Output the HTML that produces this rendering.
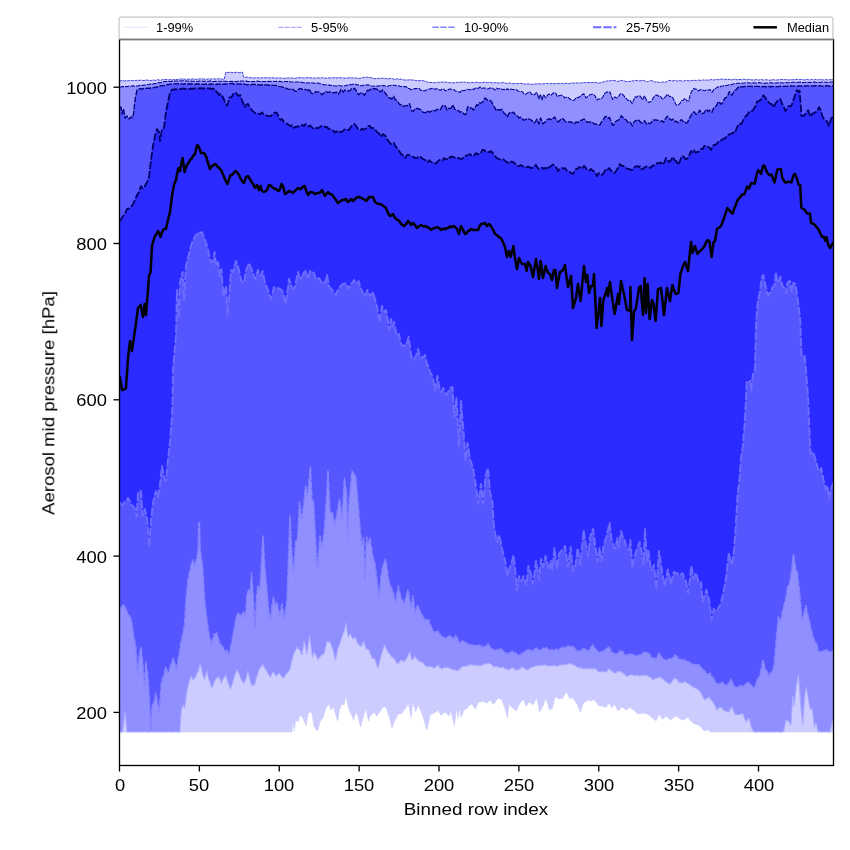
<!DOCTYPE html>
<html><head><meta charset="utf-8"><title>Aerosol mid pressure</title>
<style>
html,body{margin:0;padding:0;background:#fff;}
body{width:850px;height:850px;position:relative;overflow:hidden;font-family:"Liberation Sans",sans-serif;color:#000;}
.t{position:absolute;white-space:nowrap;line-height:1;will-change:transform;-webkit-font-smoothing:antialiased;}
.xt{font-size:17px;transform:translateX(-50%) scaleX(1.08);top:776.6px;}
.yt{font-size:17px;transform-origin:100% 50%;transform:translate(-100%,-50%) scaleX(1.08);}
.lg{font-size:12px;top:21.5px;transform-origin:0 50%;transform:scaleX(1.07);}
</style></head><body>
<svg width="850" height="850" viewBox="0 0 850 850" style="position:absolute;left:0;top:0">
<defs><clipPath id="ax"><rect x="119.5" y="39.4" width="714.0" height="726.1"/></clipPath></defs>
<g clip-path="url(#ax)">
<polygon points="119.5,81.0 121.1,80.8 122.8,80.6 124.4,81.0 126.0,80.5 127.6,80.8 129.2,80.6 130.9,80.4 132.5,80.7 134.1,80.3 135.8,80.5 137.4,80.2 139.0,80.5 140.7,80.1 142.3,80.4 144.0,80.6 145.7,80.0 147.3,80.1 149.0,80.4 150.7,80.6 152.3,80.2 154.0,80.0 155.7,80.5 157.3,79.7 159.0,80.0 160.7,80.2 162.3,79.7 164.0,79.6 165.7,79.5 167.3,79.6 169.0,80.0 170.7,79.4 172.3,79.7 174.0,79.7 175.7,79.4 177.3,79.5 179.0,79.4 180.7,79.0 182.3,79.0 184.0,79.1 185.7,79.4 187.3,79.2 189.0,79.1 190.7,79.2 192.3,79.1 194.0,78.9 195.7,79.3 197.3,79.2 199.0,79.0 200.6,78.8 202.2,79.1 203.8,79.0 205.3,79.3 206.9,79.2 208.5,78.8 210.1,79.4 211.7,78.7 213.3,78.9 214.9,79.2 216.5,78.7 218.1,79.0 219.6,78.6 221.2,79.1 222.8,79.2 224.4,79.0 225.7,72.3 227.2,72.4 228.8,72.6 230.3,72.2 231.8,72.5 233.4,72.4 234.9,72.4 236.5,72.3 238.0,72.6 239.5,72.7 241.1,72.3 242.6,72.3 243.5,77.0 244.8,77.3 246.0,77.3 247.6,77.0 249.2,77.6 250.9,77.7 252.5,78.0 254.1,78.0 255.8,77.7 257.4,77.8 259.0,78.0 260.6,78.1 262.2,77.6 263.7,78.0 265.3,77.7 266.9,77.7 268.5,77.6 270.1,78.2 271.6,77.7 273.2,77.8 274.8,77.9 276.4,78.3 277.9,77.7 279.5,78.0 281.1,78.0 282.7,78.3 284.3,78.3 285.8,78.3 287.4,77.8 289.0,78.0 290.6,77.9 292.2,77.9 293.8,78.3 295.4,78.3 297.0,77.7 298.6,77.7 300.2,77.7 301.8,77.7 303.4,77.9 305.0,78.0 306.6,77.7 308.2,77.5 309.8,77.8 311.4,77.8 313.0,77.9 314.6,78.2 316.2,78.0 317.8,77.9 319.4,77.9 321.0,78.0 322.6,77.5 324.2,78.1 325.8,78.0 327.4,78.1 329.0,77.8 330.6,78.1 332.2,77.8 333.8,77.8 335.4,77.6 337.0,78.1 338.6,77.7 340.2,77.7 341.8,77.9 343.4,77.9 345.0,78.2 346.7,78.1 348.3,77.8 350.0,77.8 351.7,77.9 353.3,77.9 355.0,78.1 356.7,77.8 358.3,78.5 360.0,78.2 361.8,78.0 363.6,77.4 365.4,77.3 367.2,77.2 368.6,77.4 370.1,77.6 371.6,77.7 373.0,78.3 374.6,78.6 376.2,78.8 377.8,78.4 379.4,78.4 381.0,78.2 382.6,78.2 384.2,78.5 385.8,78.4 387.4,78.9 389.0,78.7 390.7,78.5 392.3,78.5 394.0,79.4 395.7,79.1 397.3,78.9 399.0,79.3 400.7,79.0 402.3,79.5 404.0,80.0 405.7,80.0 407.3,80.0 409.0,79.9 410.7,79.8 412.3,80.0 414.0,80.0 415.7,80.6 417.3,80.5 419.0,80.8 420.7,80.5 422.3,80.6 424.0,80.9 425.8,81.5 427.5,82.0 429.2,82.3 431.0,82.4 432.6,82.6 434.1,82.7 435.7,82.6 437.2,82.2 438.8,82.4 440.3,82.3 441.9,82.0 443.4,82.0 445.0,82.2 446.6,82.2 448.1,82.6 449.7,82.8 451.2,82.4 452.8,82.7 454.3,82.8 455.9,82.8 457.4,82.3 459.0,82.4 460.6,82.2 462.2,82.2 463.7,82.2 465.3,82.2 466.9,82.5 468.5,82.7 470.1,82.7 471.6,82.4 473.2,82.5 474.8,82.6 476.4,82.1 477.9,82.5 479.5,82.7 481.1,82.6 482.7,82.6 484.3,82.4 485.8,82.1 487.4,82.6 489.0,82.4 490.6,82.3 492.2,82.8 493.7,83.0 495.3,82.6 496.9,82.6 498.5,83.1 500.1,83.0 501.6,82.6 503.2,82.7 504.8,82.8 506.4,83.4 507.9,83.4 509.5,82.9 511.1,83.5 512.7,83.7 514.3,83.5 515.8,83.4 517.4,83.6 519.0,83.6 520.5,83.4 522.1,83.3 523.6,84.1 525.2,83.9 526.7,83.8 528.3,84.2 529.8,83.9 531.4,84.3 532.9,84.3 534.5,83.8 536.0,84.1 537.6,83.8 539.2,83.8 540.8,83.7 542.5,84.0 544.1,83.6 545.7,83.7 547.3,83.4 548.9,84.0 550.5,83.5 552.2,83.5 553.8,83.6 555.4,83.8 557.0,83.4 558.6,83.4 560.1,83.8 561.7,83.5 563.3,83.5 564.9,83.6 566.4,83.2 568.0,83.6 569.5,83.5 571.0,83.1 572.5,82.9 574.1,83.4 575.6,82.8 577.1,83.0 578.6,82.9 580.3,83.0 582.1,82.8 583.8,82.6 585.5,82.6 587.3,82.6 589.0,82.5 590.6,82.8 592.1,82.3 593.7,82.7 595.3,82.5 596.9,82.6 598.4,83.1 600.0,82.9 601.6,82.4 603.2,81.9 604.8,81.6 606.4,80.9 607.9,81.1 609.4,80.7 610.8,80.7 612.3,80.5 613.8,80.4 615.2,80.7 616.6,81.2 618.0,81.4 619.5,80.9 621.0,80.4 622.6,80.7 624.2,80.9 625.9,81.6 627.5,81.5 629.0,81.4 630.5,81.3 632.0,80.7 633.7,81.0 635.5,80.4 637.2,80.6 638.9,80.9 640.7,80.7 642.4,80.4 643.8,80.6 645.2,81.0 646.6,81.8 648.4,81.4 650.2,80.7 652.0,80.7 653.5,81.2 655.0,82.2 656.5,81.8 658.1,82.3 659.6,82.3 661.1,82.4 662.6,81.8 664.2,82.2 665.7,82.0 667.1,81.6 668.6,80.6 670.0,80.4 671.5,80.8 673.0,80.9 674.5,80.4 676.0,80.7 677.6,81.1 679.1,80.6 680.7,80.7 682.2,81.1 683.8,81.0 685.3,80.4 686.9,80.6 688.4,80.7 690.0,80.7 691.7,80.5 693.3,80.3 695.0,80.4 696.7,80.7 698.3,80.0 700.0,80.4 701.7,80.3 703.3,79.9 705.0,80.2 706.7,80.0 708.4,80.1 710.1,79.9 711.7,79.4 713.4,80.0 715.1,79.7 716.8,79.4 718.3,79.8 719.9,79.1 721.4,79.2 723.0,79.1 724.5,79.7 726.1,79.3 727.6,79.2 729.2,79.4 730.7,79.8 732.3,79.7 733.8,79.3 735.4,79.2 736.9,79.8 738.5,79.5 740.0,79.5 741.7,79.7 743.3,79.2 745.0,79.2 746.7,79.8 748.3,79.6 750.0,79.3 751.7,80.0 753.3,79.8 755.0,80.0 756.7,79.4 758.3,80.1 760.0,79.8 761.7,79.5 763.3,80.1 765.0,79.8 766.7,79.8 768.3,80.0 770.0,80.3 771.7,79.8 773.3,79.7 775.0,80.0 776.6,80.0 778.2,79.8 779.8,79.6 781.4,79.6 783.0,79.5 784.6,79.6 786.2,79.7 787.8,79.7 789.4,80.0 791.0,79.6 792.6,79.8 794.2,79.5 795.8,79.6 797.4,79.3 799.0,79.7 800.6,79.5 802.1,79.3 803.7,79.9 805.3,79.7 806.8,79.4 808.4,79.7 810.0,80.0 811.5,79.3 813.1,79.9 814.7,79.6 816.2,79.6 817.8,79.9 819.4,79.6 821.0,79.6 822.5,79.8 824.1,80.0 825.7,79.5 827.2,79.9 828.8,79.8 830.4,79.7 831.9,79.5 833.5,79.6 833.5,732.0 831.9,732.0 830.3,732.0 828.7,732.0 827.1,732.0 825.5,732.0 824.0,732.0 822.4,732.0 820.8,732.0 819.2,732.0 817.6,732.0 816.0,732.0 814.4,732.0 812.8,732.0 811.2,732.0 809.6,732.0 808.0,732.0 806.5,732.0 804.9,732.0 803.3,732.0 801.7,732.0 800.1,732.0 798.5,732.0 796.9,732.0 795.3,732.0 793.7,732.0 792.1,732.0 790.5,732.0 789.0,732.0 787.4,732.0 785.8,732.0 784.2,732.0 782.6,732.0 781.0,732.0 779.4,732.0 777.8,732.0 776.2,732.0 774.6,732.0 773.0,732.0 771.5,732.0 769.9,732.0 768.3,732.0 766.7,732.0 765.1,732.0 763.5,732.0 761.9,732.0 760.3,732.0 758.7,732.0 757.1,732.0 755.5,732.0 754.0,732.0 752.4,732.0 750.8,732.0 749.2,732.0 747.6,732.0 746.0,732.0 744.4,732.0 742.8,732.0 741.2,732.0 739.6,732.0 738.0,732.0 736.5,732.0 734.9,732.0 733.3,732.0 731.7,732.0 730.1,732.0 728.5,732.0 726.9,732.0 725.3,732.0 723.7,732.0 722.1,732.0 720.5,732.0 719.0,732.0 717.4,732.0 715.8,732.0 714.2,732.0 712.6,732.0 711.0,732.0 709.5,731.7 708.0,729.6 706.0,730.5 704.0,731.0 702.0,728.4 700.0,726.0 698.0,725.0 696.0,724.0 694.0,723.8 692.0,722.0 690.0,720.2 688.0,717.0 686.0,718.6 684.0,720.0 682.0,719.6 680.0,719.0 678.0,717.3 676.0,716.0 674.3,717.1 672.7,717.9 671.0,720.0 669.3,718.7 667.7,717.7 666.0,716.0 664.0,718.3 662.0,719.0 660.5,716.2 659.0,714.0 657.5,717.7 656.0,721.0 654.0,719.2 652.0,718.0 650.0,715.8 648.0,714.0 646.3,714.0 644.7,713.4 643.0,713.0 641.0,713.5 639.0,714.0 637.0,713.4 635.0,711.0 633.3,709.7 631.7,708.8 630.0,707.0 628.0,709.3 626.0,710.0 624.0,708.5 622.0,707.0 620.0,709.1 618.0,711.0 616.0,706.7 614.0,704.0 612.0,708.0 609.6,704.0 608.1,704.1 606.5,706.7 605.0,707.0 603.3,706.5 601.7,705.8 600.0,706.0 598.5,705.3 597.0,703.0 595.5,701.6 594.0,699.0 592.5,700.6 591.0,701.0 589.5,700.2 588.0,700.0 586.0,701.8 584.0,702.0 582.2,706.3 580.4,712.0 578.7,708.1 577.0,704.0 575.0,701.1 573.0,698.0 571.5,697.9 570.0,699.0 568.2,695.1 566.4,692.0 564.7,694.4 563.0,698.0 561.0,698.4 559.0,699.0 557.0,698.0 555.0,697.0 553.7,703.1 552.4,708.0 550.9,709.5 549.4,710.0 547.7,703.7 546.0,698.0 544.5,701.8 543.0,706.0 541.2,709.1 539.4,712.0 537.0,698.0 535.0,701.3 533.0,705.0 531.0,703.1 529.0,702.0 527.5,704.4 526.0,706.0 524.5,702.4 523.0,699.0 521.0,701.9 519.0,705.0 517.7,707.8 516.4,711.0 514.7,709.7 513.0,708.0 511.0,706.7 509.0,704.0 507.4,718.0 505.0,708.0 503.5,704.5 502.0,700.0 500.0,698.9 498.0,698.0 496.0,701.1 494.0,704.0 492.0,702.8 490.0,700.0 488.5,701.5 487.0,703.0 485.0,702.2 483.0,701.0 481.0,702.0 479.0,702.0 477.3,704.6 475.6,709.0 473.8,707.2 472.0,704.0 470.0,704.8 468.0,707.0 466.0,709.2 464.0,710.0 462.5,713.9 461.0,717.0 459.6,708.0 458.0,718.0 456.4,708.0 454.4,726.0 452.7,719.0 451.0,711.0 449.0,716.0 447.0,714.0 445.0,712.0 443.0,714.0 441.0,715.0 439.5,712.9 438.0,710.0 436.0,711.9 434.0,713.0 432.0,714.0 430.0,715.0 428.5,723.1 427.0,730.0 425.5,725.6 424.0,720.0 422.5,715.7 421.0,711.0 419.5,708.3 418.0,705.0 415.6,712.0 414.3,706.7 413.0,702.0 411.0,718.0 409.7,710.2 408.4,703.0 406.0,708.0 404.0,709.9 402.0,713.0 400.0,713.9 398.0,714.0 396.5,717.8 395.0,720.0 393.5,723.5 392.0,728.0 390.5,721.3 389.0,716.0 387.5,711.9 386.0,707.0 384.5,706.9 383.0,707.0 381.5,709.3 380.0,712.0 378.5,713.2 377.0,716.0 375.3,713.9 373.6,712.0 372.3,714.2 371.0,715.0 369.7,717.2 368.4,721.0 366.0,709.0 364.5,712.9 363.0,718.0 360.6,727.0 359.3,722.0 358.0,716.0 356.0,712.0 353.6,720.0 352.3,716.6 351.0,714.0 349.5,710.9 348.0,706.0 346.0,696.0 344.0,705.0 342.0,704.0 340.0,708.0 337.6,721.0 335.6,714.0 334.3,710.1 333.0,707.0 331.0,710.0 329.0,704.0 327.5,706.0 326.0,708.0 324.5,713.1 323.0,718.0 321.5,719.5 320.0,722.0 317.6,731.0 315.8,729.2 314.0,726.0 311.6,712.0 310.1,712.2 308.6,713.0 307.3,718.6 306.0,726.0 304.5,722.2 303.0,718.0 301.5,716.3 300.0,715.0 298.0,722.0 295.6,720.0 294.4,731.0 293.0,722.0 292.0,732.0 290.4,732.0 288.8,732.0 287.2,732.0 285.6,732.0 284.0,732.0 282.4,732.0 280.8,732.0 279.2,732.0 277.6,732.0 276.0,732.0 274.4,732.0 272.8,732.0 271.2,732.0 269.6,732.0 268.0,732.0 266.4,732.0 264.8,732.0 263.2,732.0 261.7,732.0 260.1,732.0 258.5,732.0 256.9,732.0 255.3,732.0 253.7,732.0 252.1,732.0 250.5,732.0 248.9,732.0 247.3,732.0 245.7,732.0 244.1,732.0 242.5,732.0 240.9,732.0 239.3,732.0 237.7,732.0 236.1,732.0 234.5,732.0 232.9,732.0 231.3,732.0 229.7,732.0 228.1,732.0 226.5,732.0 224.9,732.0 223.3,732.0 221.7,732.0 220.1,732.0 218.5,732.0 216.9,732.0 215.3,732.0 213.7,732.0 212.1,732.0 210.5,732.0 208.9,732.0 207.3,732.0 205.8,732.0 204.2,732.0 202.6,732.0 201.0,732.0 199.4,732.0 197.8,732.0 196.2,732.0 194.6,732.0 193.0,732.0 191.4,732.0 189.8,732.0 188.2,732.0 186.6,732.0 185.0,732.0 183.4,732.0 181.8,732.0 180.2,732.0 178.6,732.0 177.0,732.0 175.4,732.0 173.8,732.0 172.2,732.0 170.6,732.0 169.0,732.0 167.4,732.0 165.8,732.0 164.2,732.0 162.6,732.0 161.0,732.0 159.4,732.0 157.8,732.0 156.2,732.0 154.6,732.0 153.0,732.0 151.4,732.0 149.8,732.0 148.2,732.0 146.7,732.0 145.1,732.0 143.5,732.0 141.9,732.0 140.3,732.0 138.7,732.0 137.1,732.0 135.5,732.0 133.9,732.0 132.3,732.0 130.7,732.0 129.1,732.0 127.5,732.0 125.9,732.0 124.3,732.0 122.7,732.0 121.1,732.0 119.5,732.0" fill="#ccccff"/>
<polygon points="119.5,87.2 121.0,87.0 122.5,86.6 124.0,86.6 125.5,86.4 127.0,86.7 128.5,86.3 130.0,86.3 131.6,86.0 133.1,85.8 134.7,86.2 136.2,86.1 137.8,85.9 139.4,85.5 140.9,85.3 142.5,85.4 144.1,85.0 145.8,84.9 147.4,84.4 149.1,84.3 150.7,83.9 152.4,84.2 154.0,83.6 155.5,83.7 157.0,83.1 158.5,82.6 160.0,82.9 161.5,82.2 163.0,81.9 164.5,81.4 166.0,81.5 167.5,81.4 169.0,81.4 170.5,81.4 172.0,81.1 173.5,81.3 175.0,80.9 176.5,81.0 178.0,81.1 179.6,80.8 181.2,81.0 182.8,80.8 184.5,80.8 186.1,81.0 187.7,80.9 189.3,81.2 190.9,81.1 192.5,81.3 194.2,81.2 195.8,81.3 197.4,81.4 199.0,81.1 200.7,81.0 202.3,81.0 204.0,81.5 205.7,80.9 207.3,81.3 209.0,81.3 210.7,80.8 212.3,81.4 214.0,81.4 215.7,81.3 217.3,81.4 219.0,81.2 220.6,81.4 222.2,81.0 223.8,81.2 225.5,81.2 227.1,81.5 228.7,81.5 230.3,81.5 231.9,81.3 233.5,81.5 235.2,81.4 236.8,81.4 238.4,81.1 240.0,81.3 241.6,81.0 243.2,81.1 244.8,81.2 246.3,81.1 247.9,81.6 249.5,81.4 251.1,81.4 252.7,81.5 254.2,81.5 255.8,81.4 257.4,81.0 259.0,81.4 260.6,81.6 262.2,81.6 263.8,81.4 265.4,81.5 267.0,81.6 268.6,81.2 270.2,81.6 271.8,81.3 273.4,81.2 275.0,81.5 276.6,81.3 278.1,81.7 279.7,81.3 281.2,81.7 282.8,81.9 284.3,81.6 285.9,81.5 287.4,81.6 289.0,81.6 290.6,81.8 292.2,81.9 293.8,81.9 295.4,82.0 297.0,82.0 298.6,81.9 300.1,82.1 301.7,82.3 303.3,82.8 304.9,82.6 306.4,83.0 308.0,83.1 309.7,82.8 311.3,82.8 313.0,82.9 314.7,83.2 316.3,83.2 318.0,83.1 319.5,83.6 321.0,83.8 322.5,84.3 324.0,84.7 325.7,84.8 327.3,85.0 329.0,84.9 330.7,85.6 332.3,85.3 334.0,85.7 335.6,86.0 337.1,86.0 338.7,85.4 340.3,85.7 341.9,85.9 343.4,86.0 345.0,85.7 346.7,85.3 348.4,84.9 350.1,84.5 351.8,84.7 353.5,84.1 355.0,84.2 356.5,84.8 357.9,84.8 359.4,85.4 360.9,85.7 362.5,85.8 364.0,84.9 365.6,85.2 367.2,84.7 368.8,85.1 370.4,85.7 372.0,86.0 373.6,86.2 375.3,85.9 377.0,86.3 378.6,85.9 380.3,85.5 382.0,85.7 383.7,85.5 385.3,86.0 387.0,86.2 388.4,85.9 389.9,85.6 391.3,85.2 392.7,85.2 394.2,85.3 395.6,85.5 397.1,86.0 398.5,85.7 400.0,86.2 401.6,86.5 403.2,86.7 404.8,86.4 406.4,86.8 408.0,88.5 409.6,88.6 411.2,89.7 412.8,89.4 414.4,88.6 416.0,88.6 417.6,88.4 419.2,88.4 420.9,90.5 422.7,90.3 424.4,91.0 426.2,90.0 427.9,89.4 429.7,88.9 431.5,88.5 433.2,88.1 435.0,89.4 437.0,88.6 439.0,89.8 440.6,90.4 442.2,88.9 443.8,89.2 445.4,90.9 447.0,90.5 448.4,89.5 449.8,89.1 451.2,89.2 452.6,89.8 454.0,89.7 455.4,91.0 457.2,91.2 459.1,92.1 460.5,92.1 461.8,90.0 463.5,90.7 465.3,90.2 467.0,89.2 468.7,89.4 470.3,89.9 472.0,88.8 473.5,89.5 475.1,88.3 476.6,87.8 478.3,88.4 480.0,86.8 481.6,88.5 483.3,87.9 485.0,88.1 486.7,88.9 488.4,88.8 490.1,88.1 491.8,87.7 493.5,88.9 495.0,90.0 496.5,88.1 498.0,89.0 499.5,88.7 501.0,88.6 502.5,89.7 504.0,89.2 505.6,90.4 507.2,88.7 508.8,89.7 510.4,88.9 512.0,89.5 513.6,89.4 515.0,89.7 516.5,89.7 517.9,91.0 520.0,91.5 521.4,91.4 522.8,92.1 524.2,94.5 525.6,94.2 527.2,93.1 528.8,92.1 530.2,92.1 531.6,94.5 533.0,94.2 534.4,94.9 535.8,93.0 537.2,92.6 538.8,99.0 540.4,94.2 542.0,100.0 543.6,94.7 545.7,97.9 547.8,94.7 549.4,94.1 551.0,95.3 552.9,93.2 554.7,92.6 556.0,93.7 557.4,96.8 559.0,95.7 560.5,95.3 561.9,95.2 563.4,96.4 564.8,97.9 566.4,97.1 568.0,97.4 570.0,99.0 571.4,99.9 572.7,100.5 574.5,99.9 576.4,97.4 578.0,97.7 579.6,96.8 581.0,95.6 582.4,94.5 583.8,93.7 586.0,97.9 587.5,96.7 589.1,95.3 590.5,94.6 592.0,94.2 593.4,94.2 595.2,96.0 597.1,100.0 598.4,99.0 599.7,99.0 601.5,98.8 603.2,96.3 604.8,93.3 606.4,92.1 608.2,92.1 610.0,92.1 611.4,96.1 612.7,99.5 614.8,96.8 616.4,98.0 618.0,97.4 619.6,94.7 621.2,93.4 622.6,94.4 624.0,95.8 625.4,97.9 626.7,99.0 628.0,100.5 630.0,100.0 632.3,103.7 633.6,100.1 635.0,96.8 636.5,97.4 638.1,95.8 640.5,96.3 642.4,100.0 644.5,95.8 646.6,100.5 648.2,102.1 649.8,102.1 651.4,101.1 653.0,98.4 654.4,96.2 655.8,95.1 657.2,95.2 658.8,96.3 660.4,96.3 662.0,98.6 663.6,99.0 665.5,96.5 667.3,94.2 668.6,95.7 670.0,96.8 671.5,96.4 673.1,98.4 674.4,101.0 675.7,104.2 677.0,105.5 678.4,104.8 680.0,103.4 681.5,100.5 683.1,100.3 684.7,98.4 685.0,98.4 686.9,100.8 688.7,101.0 690.3,94.7 691.6,91.4 693.0,89.4 694.3,88.4 695.6,89.2 696.9,89.3 698.2,91.0 699.5,90.3 700.9,89.4 702.7,90.0 704.4,90.9 706.2,90.0 708.0,90.2 709.9,89.4 712.0,92.4 714.1,88.9 716.0,88.2 717.8,86.8 719.4,87.2 721.0,86.2 722.6,86.0 724.2,85.5 725.8,85.6 727.4,85.2 729.1,84.7 730.8,84.8 732.4,84.3 734.1,83.8 735.8,83.6 737.5,83.3 739.2,83.3 740.9,83.4 742.6,83.3 744.3,83.1 745.9,82.8 747.5,82.8 749.1,83.0 750.6,83.0 752.2,82.9 753.8,82.8 755.4,83.0 757.0,82.9 758.6,82.6 760.3,82.8 761.9,82.9 763.5,83.2 765.2,83.0 766.8,83.2 768.5,82.9 770.1,82.8 771.7,82.8 773.4,83.3 775.0,83.0 776.6,83.1 778.2,82.8 779.8,82.6 781.4,82.8 783.0,82.9 784.6,82.7 786.2,82.5 787.8,82.7 789.4,82.8 791.0,82.4 792.6,82.2 794.2,82.3 795.8,82.3 797.4,82.5 799.0,82.3 800.6,82.1 802.1,82.5 803.7,82.4 805.3,82.3 806.8,82.1 808.4,82.6 810.0,82.2 811.5,82.5 813.1,82.1 814.7,82.1 816.2,82.4 817.8,82.1 819.4,82.5 821.0,82.2 822.5,82.0 824.1,82.1 825.7,82.2 827.2,82.3 828.8,82.5 830.4,82.0 831.9,82.1 833.5,82.2 833.5,719.0 832.4,721.0 830.0,732.0 828.3,732.0 826.6,732.0 824.9,732.0 823.3,732.0 821.6,732.0 819.9,732.0 818.2,732.0 816.0,723.0 814.4,727.0 812.2,708.0 810.5,710.4 808.4,699.8 806.3,687.0 804.8,695.5 802.7,725.0 800.6,704.0 798.5,674.4 796.4,685.0 794.2,706.0 792.8,695.5 791.0,725.0 789.5,722.5 787.9,721.0 785.8,720.0 783.6,732.0 782.0,732.0 780.5,732.0 778.9,732.0 777.4,732.0 775.8,732.0 774.3,732.0 772.7,732.0 771.1,732.0 769.6,732.0 768.0,732.0 766.5,732.0 764.9,732.0 763.3,732.0 761.8,732.0 760.2,732.0 758.7,732.0 757.1,732.0 755.6,732.0 754.0,732.0 751.6,728.0 750.3,723.0 749.0,718.0 747.5,719.9 746.0,722.0 744.5,718.0 743.0,714.0 741.0,713.7 739.0,715.0 737.0,714.7 735.0,714.0 733.3,710.3 731.6,707.0 730.3,709.0 729.0,712.0 727.0,711.3 725.0,711.0 723.0,709.5 721.0,707.0 719.0,708.0 717.0,710.0 715.0,705.6 713.0,702.0 711.0,700.1 709.0,697.0 707.0,698.5 705.0,700.0 703.0,697.2 701.0,693.0 699.0,690.2 697.0,689.0 695.3,688.0 693.7,687.6 692.0,686.0 690.5,685.5 689.0,683.7 687.5,683.5 686.0,682.0 684.5,681.5 683.0,682.9 681.5,682.6 680.0,683.0 678.3,681.7 676.7,679.0 675.0,678.0 673.3,679.5 671.7,682.1 670.0,684.0 668.5,683.5 667.0,682.3 665.5,681.2 664.0,680.0 662.3,678.5 660.7,677.6 659.0,677.0 657.5,677.7 656.0,678.7 654.5,678.6 653.0,680.0 651.5,678.1 650.0,677.0 648.5,676.6 647.0,675.0 645.2,675.7 643.5,675.0 641.8,675.2 640.0,676.0 638.4,675.9 636.8,675.1 635.2,676.1 633.6,675.1 632.0,675.0 630.5,674.7 629.0,675.5 627.5,676.3 626.0,676.0 624.5,674.0 623.0,672.9 621.5,672.0 620.0,671.0 618.5,672.0 617.0,671.2 615.5,673.3 614.0,673.0 612.5,671.3 611.1,670.7 609.6,669.0 608.1,669.3 606.5,671.6 605.0,672.0 603.3,671.7 601.7,671.4 600.0,672.0 598.3,671.3 596.7,670.1 595.0,668.0 593.3,669.1 591.7,668.4 590.0,669.0 588.5,668.5 587.0,668.6 585.5,668.7 584.0,669.0 582.5,668.5 581.0,667.5 579.5,667.8 578.0,667.0 576.5,666.9 575.0,664.8 573.5,665.5 572.0,664.0 570.0,663.4 568.0,664.0 566.5,664.9 565.0,664.2 563.5,664.7 562.0,665.0 560.5,664.7 559.0,665.2 557.5,666.3 556.0,666.0 554.5,665.6 553.0,665.4 551.5,665.9 550.0,666.0 548.5,665.4 547.0,666.1 545.5,664.7 544.0,665.0 542.5,665.3 541.0,665.8 539.5,665.0 538.0,666.0 536.5,665.8 535.0,665.9 533.5,667.0 532.0,667.0 530.3,668.0 528.7,669.5 527.0,670.0 525.3,668.7 523.7,667.9 522.0,667.0 520.3,668.2 518.7,669.5 517.0,670.0 515.3,670.0 513.7,668.0 512.0,668.0 510.0,668.9 508.0,670.0 506.3,668.4 504.7,668.6 503.0,667.0 501.3,667.6 499.7,667.7 498.0,667.0 496.3,666.2 494.7,667.0 493.0,666.0 491.3,664.3 489.7,663.5 488.0,663.0 486.3,664.0 484.7,663.6 483.0,665.0 481.3,665.6 479.7,665.1 478.0,666.0 476.5,665.3 475.0,665.0 473.5,665.2 472.0,665.0 470.3,664.7 468.7,665.3 467.0,666.0 465.3,666.1 463.7,666.0 462.0,667.0 460.3,668.7 458.7,669.8 457.0,671.0 455.3,670.0 453.7,669.9 452.0,669.0 450.0,668.7 448.0,667.0 446.5,667.9 445.0,667.4 443.5,667.8 442.0,669.0 440.0,667.8 438.0,665.0 436.0,666.7 434.0,668.0 432.0,667.3 430.0,666.0 427.6,667.0 425.8,666.0 424.0,664.0 422.5,662.3 421.0,662.0 419.5,661.5 418.0,660.0 416.5,658.6 415.0,656.0 413.5,658.6 412.0,660.0 409.6,652.0 408.3,654.8 407.0,658.0 405.5,659.6 404.0,662.0 402.5,660.3 401.0,660.0 399.5,661.6 398.0,664.0 396.0,661.8 394.0,658.0 392.5,657.7 391.0,656.0 389.5,653.5 388.0,652.0 386.2,648.4 384.4,645.0 382.7,650.3 381.0,656.0 379.5,662.3 378.0,668.0 376.5,664.2 375.0,659.0 373.5,658.7 372.0,658.0 370.5,654.1 369.0,650.0 367.5,649.1 366.0,649.0 363.6,641.0 362.3,644.7 361.0,647.0 359.5,644.9 358.0,644.0 356.5,640.3 355.0,637.0 353.0,639.0 351.7,636.7 350.4,634.0 348.0,637.0 346.0,623.0 344.0,632.0 342.5,635.3 341.0,640.0 339.5,644.7 338.0,648.0 335.6,660.0 334.3,655.7 333.0,650.0 331.5,645.9 330.0,642.0 328.5,642.1 327.0,641.0 325.5,647.6 324.0,654.0 322.5,654.3 321.0,656.0 319.5,657.3 318.0,660.0 316.0,655.5 314.0,652.0 312.4,658.0 311.0,646.5 309.6,636.0 308.3,644.3 307.0,654.0 305.5,647.1 304.0,641.0 302.0,655.0 300.0,650.0 298.5,649.2 297.0,647.0 295.7,650.0 294.4,652.0 292.0,660.0 290.0,669.0 288.0,671.9 286.0,674.0 284.5,676.7 283.0,678.0 281.0,675.4 279.0,673.0 277.5,674.9 276.0,676.0 274.5,673.6 273.0,672.0 271.5,674.6 270.0,677.0 268.0,673.5 266.0,670.0 264.5,667.6 263.0,664.0 261.6,666.6 260.2,667.6 258.9,670.4 257.5,674.7 256.2,678.3 254.9,683.5 253.6,684.8 252.2,686.0 250.5,681.8 249.2,676.2 247.8,671.0 245.7,680.0 243.4,683.5 241.7,680.2 239.9,676.5 238.6,672.4 237.2,669.4 235.1,674.7 232.8,681.8 230.5,688.8 228.4,683.5 227.1,679.6 225.8,674.7 224.4,677.1 223.1,679.0 221.3,683.5 220.0,679.4 218.7,676.5 217.0,678.0 215.7,679.7 214.3,681.8 212.9,685.7 211.6,688.0 210.3,683.3 209.0,680.0 206.7,671.0 204.6,680.0 202.3,673.0 200.2,663.0 198.4,671.0 197.1,673.2 195.8,676.5 194.4,678.3 193.0,680.0 191.0,675.6 188.7,683.5 187.0,690.6 185.8,699.1 184.6,708.0 182.9,704.7 181.1,711.8 179.9,732.0 178.3,732.0 176.7,732.0 175.1,732.0 173.5,732.0 171.9,732.0 170.3,732.0 168.7,732.0 167.1,732.0 165.5,732.0 163.9,732.0 162.3,732.0 160.7,732.0 159.1,732.0 157.5,732.0 155.9,732.0 154.3,732.0 152.6,732.0 151.0,732.0 149.4,732.0 147.8,732.0 146.2,732.0 144.6,732.0 143.0,732.0 141.4,732.0 139.8,732.0 138.2,732.0 136.6,732.0 135.0,732.0 133.4,732.0 131.8,732.0 130.2,732.0 128.6,732.0 127.0,732.0 125.2,711.8 123.8,722.6 122.5,732.0 121.0,732.0 119.5,732.0" fill="#8f8fff"/>
<polygon points="119.5,108.0 121.0,107.0 122.0,114.0 123.5,109.0 125.0,118.0 127.0,116.0 129.0,119.0 131.0,117.0 132.5,118.0 133.5,114.0 135.0,100.0 137.0,90.0 139.0,89.0 140.7,88.7 142.3,89.1 144.0,88.4 145.7,88.3 147.3,88.2 149.0,88.4 150.6,88.0 152.1,88.0 153.7,87.6 155.3,87.2 156.9,87.0 158.4,86.6 160.0,86.0 161.5,85.6 163.0,85.3 164.5,85.6 166.0,85.2 167.5,84.4 169.0,84.6 170.5,84.2 172.0,84.0 173.6,83.9 175.3,83.9 176.9,83.8 178.5,83.7 180.2,83.8 181.8,83.9 183.5,84.3 185.1,83.7 186.7,84.3 188.4,83.8 190.0,84.0 191.7,83.9 193.3,84.3 195.0,84.3 196.7,84.0 198.3,83.8 200.0,84.1 201.7,84.1 203.3,84.5 205.0,84.2 206.6,84.0 208.1,84.1 209.7,84.5 211.2,83.9 212.8,84.2 214.3,84.5 215.9,84.5 217.4,84.0 219.0,84.3 220.5,83.9 222.0,83.8 223.5,84.3 225.0,83.8 226.5,84.0 228.0,84.1 229.5,83.6 231.0,83.6 232.6,83.5 234.1,84.1 235.7,83.9 237.2,83.8 238.8,84.2 240.3,84.0 241.9,84.1 243.4,84.0 245.0,84.4 246.6,84.6 248.1,84.8 249.7,84.6 251.2,84.8 252.8,84.2 254.3,84.4 255.9,84.6 257.4,85.0 259.0,84.7 260.6,85.1 262.1,84.7 263.7,84.7 265.3,84.8 266.9,84.9 268.4,85.3 270.0,85.0 271.5,84.9 273.0,85.4 274.5,85.4 276.0,85.3 277.5,85.9 278.9,86.3 280.4,86.6 281.8,86.8 283.3,87.3 284.9,87.7 286.5,88.3 288.1,89.1 289.7,89.4 291.5,88.8 293.2,89.7 295.0,91.0 296.5,91.3 298.0,89.7 299.4,88.9 300.9,88.5 302.4,89.4 303.8,89.7 305.2,89.3 306.6,90.0 308.0,90.7 309.3,88.9 310.8,92.6 312.4,93.5 314.0,93.6 315.6,91.6 317.2,92.1 318.8,91.9 320.4,92.8 322.0,94.7 323.9,93.1 325.7,91.5 327.3,92.4 328.9,92.2 330.4,92.0 332.0,93.1 333.4,92.6 334.9,92.7 336.3,92.1 338.4,94.2 339.7,92.3 341.0,89.4 343.2,92.0 345.0,90.0 346.5,91.1 348.0,91.0 349.7,90.9 351.4,88.9 352.8,89.5 354.2,88.2 355.6,89.4 357.2,92.9 358.8,94.7 360.4,93.1 362.0,92.6 363.3,94.1 364.6,95.3 365.9,92.6 367.2,90.5 368.8,90.6 370.4,89.4 372.0,88.6 373.6,88.7 375.2,88.7 376.8,89.4 378.4,89.5 380.0,91.5 381.3,91.7 382.6,90.0 384.0,91.8 385.3,93.1 386.6,94.8 387.9,97.4 389.8,97.9 391.6,99.0 393.7,96.3 395.3,99.7 396.9,100.5 398.4,102.7 400.0,104.8 401.4,104.4 402.9,106.3 404.3,105.8 405.9,105.9 407.5,105.3 409.6,103.7 411.2,110.1 412.5,111.6 413.8,110.6 415.1,108.5 416.5,108.5 417.9,108.7 419.2,109.0 421.3,110.0 422.9,112.2 424.4,112.7 426.0,112.5 427.6,110.6 429.2,112.2 430.8,111.7 433.0,110.0 435.3,111.0 437.1,109.3 438.8,109.5 440.6,109.5 441.9,106.4 443.2,105.3 445.4,105.8 447.0,110.0 448.5,108.4 450.0,108.5 451.4,107.9 452.8,104.8 454.9,109.5 456.8,110.3 458.6,110.6 460.0,112.4 461.4,111.7 462.8,112.7 464.4,114.5 466.0,114.3 467.6,106.9 469.2,107.3 470.8,108.0 472.1,108.4 473.4,110.0 475.0,108.1 476.6,104.8 478.0,105.4 479.4,102.7 480.8,103.2 482.1,102.3 483.5,101.0 485.0,97.9 487.2,100.0 488.8,100.6 490.4,100.5 491.9,102.4 493.5,105.8 495.1,108.1 496.7,111.1 498.3,109.6 499.9,110.0 502.0,109.5 504.1,113.2 505.7,114.3 507.3,117.0 508.9,113.2 510.5,112.2 512.0,112.8 513.6,112.2 515.0,114.4 516.3,115.9 517.6,116.2 519.0,118.0 520.5,117.2 522.0,118.6 523.5,120.0 525.0,120.0 527.0,118.7 529.0,119.0 530.7,119.8 532.3,120.9 534.0,123.0 535.5,121.8 537.0,119.0 539.0,124.0 540.6,118.0 543.0,124.0 545.0,122.1 547.0,120.0 548.7,118.9 550.3,119.0 552.0,120.0 553.3,118.2 554.6,117.0 556.3,119.6 558.0,122.0 559.5,120.9 561.0,119.0 562.5,118.7 564.0,119.6 565.5,121.8 567.0,122.0 568.5,122.0 570.0,121.9 571.5,122.2 573.0,123.0 574.5,123.9 576.0,122.0 577.5,122.4 579.0,122.0 580.7,120.6 582.3,119.8 584.0,119.0 585.7,120.9 587.3,122.3 589.0,122.0 590.8,122.1 592.5,122.2 594.2,124.1 596.0,124.0 598.0,125.0 600.0,124.9 601.6,121.7 603.2,120.1 604.8,117.0 606.4,116.4 608.0,118.0 609.5,117.5 611.1,121.3 612.7,125.4 614.0,124.4 615.4,121.7 617.0,120.7 618.5,120.1 619.9,118.9 621.2,115.7 622.8,117.3 624.4,119.1 626.2,119.8 628.0,122.3 630.0,121.7 632.3,126.0 633.9,122.1 635.5,120.7 636.8,120.3 638.1,119.6 639.5,121.0 641.0,122.8 642.4,122.8 644.5,120.7 646.6,124.4 648.2,123.0 649.8,123.8 651.4,122.3 653.0,120.1 655.0,119.8 657.0,120.1 658.7,120.7 660.4,121.2 662.0,120.8 663.6,122.3 665.5,118.6 667.3,116.1 668.6,117.7 670.0,119.1 671.5,120.2 673.0,119.1 675.2,121.7 676.5,121.2 677.9,122.8 679.7,121.2 681.5,119.6 683.2,121.4 685.0,121.7 686.3,123.2 687.6,122.3 689.0,118.9 690.3,117.0 692.1,113.4 694.0,111.7 696.1,114.3 697.7,113.8 699.8,110.1 701.1,112.9 702.5,113.3 703.9,113.3 705.3,110.7 706.7,109.5 708.3,111.7 709.9,110.1 712.0,112.2 713.4,108.6 714.7,107.4 716.5,105.6 718.4,101.6 719.7,102.7 721.0,104.3 722.9,102.4 724.7,98.4 726.0,97.7 727.4,96.3 729.5,91.5 730.8,94.2 732.1,95.2 733.5,92.0 734.8,90.5 736.4,89.6 738.0,87.3 739.6,86.4 741.1,86.8 742.7,86.9 744.3,86.5 745.9,86.7 747.6,86.3 749.2,86.3 750.8,86.4 752.5,86.5 754.1,86.4 755.7,86.3 757.4,86.3 759.0,86.5 760.6,86.6 762.2,86.8 763.8,86.3 765.4,86.6 767.0,86.7 768.6,86.3 770.2,86.8 771.8,86.4 773.4,86.6 775.0,86.6 776.6,86.6 778.2,86.6 779.8,86.4 781.4,86.4 783.0,86.4 784.6,86.3 786.2,86.4 787.8,86.2 789.4,86.2 791.0,85.9 792.6,86.2 794.2,86.1 795.8,85.9 797.4,86.2 799.0,86.0 800.6,86.2 802.1,86.0 803.7,85.8 805.3,86.0 806.8,85.8 808.4,85.8 810.0,86.0 811.5,85.8 813.1,86.0 814.7,86.0 816.2,85.7 817.8,86.1 819.4,85.7 821.0,86.1 822.5,86.2 824.1,86.0 825.7,85.7 827.2,86.0 828.8,85.9 830.4,86.3 831.9,85.8 833.5,86.0 833.5,650.0 831.9,651.6 830.2,652.0 828.6,651.7 827.0,650.0 825.6,649.9 824.2,650.8 822.8,651.0 820.9,652.2 819.0,652.0 817.8,648.5 816.5,643.7 814.4,640.5 812.8,635.9 811.2,630.0 809.8,622.7 808.4,617.2 807.1,612.1 805.9,605.5 804.2,613.0 802.0,619.3 800.8,606.2 799.5,591.8 797.4,572.7 795.8,569.4 793.4,554.0 791.8,569.4 789.4,585.0 787.9,585.4 785.8,598.0 784.2,604.6 782.6,610.8 780.5,621.4 778.4,617.0 777.1,630.7 775.8,644.7 774.0,666.0 772.0,672.0 770.4,673.2 768.8,675.4 767.2,671.7 765.6,670.0 764.2,664.3 762.9,659.5 761.5,667.9 760.0,675.0 758.5,678.3 757.0,680.0 755.7,684.2 754.4,688.0 752.0,686.0 750.0,684.4 748.0,682.0 746.0,683.8 744.0,686.0 742.5,686.3 741.0,685.0 739.0,686.4 737.0,688.0 735.5,686.6 734.0,686.0 732.5,682.7 731.0,679.0 729.5,682.2 728.0,684.0 726.5,685.5 725.0,685.0 723.5,683.7 722.0,682.0 720.0,683.2 718.0,685.0 716.0,682.7 714.0,679.0 712.0,676.4 710.0,673.0 708.5,674.4 707.0,674.0 705.0,671.1 703.0,670.0 701.0,667.1 699.0,665.0 697.3,664.8 695.7,664.9 694.0,664.0 692.3,664.2 690.7,663.2 689.0,662.0 687.3,661.1 685.7,660.5 684.0,660.0 682.3,659.9 680.7,659.6 679.0,659.0 677.0,656.7 675.0,655.0 673.0,657.6 671.0,659.0 669.0,658.8 667.0,660.0 665.0,659.9 663.0,659.0 661.0,655.9 659.0,653.0 657.5,656.1 656.0,659.0 654.0,658.2 652.0,658.0 650.0,654.6 648.0,653.0 646.0,652.5 644.0,652.0 642.0,654.2 640.0,655.0 638.3,654.7 636.7,656.1 635.0,656.0 633.3,655.0 631.7,653.8 630.0,654.0 628.3,655.0 626.7,655.0 625.0,655.0 623.0,652.0 621.0,651.0 619.0,651.5 617.0,654.0 615.0,653.9 613.0,653.0 611.0,650.9 609.0,647.0 607.0,648.0 605.0,650.0 603.3,651.5 601.7,651.3 600.0,652.0 598.5,651.9 597.0,651.0 595.0,648.3 593.0,645.0 591.0,647.2 589.0,651.0 587.3,650.5 585.7,649.7 584.0,648.0 582.0,649.9 580.0,651.0 578.0,651.0 576.0,650.0 574.3,647.8 572.7,646.7 571.0,646.0 569.3,646.8 567.7,646.2 566.0,647.0 564.5,647.9 563.0,647.0 561.5,647.8 560.0,649.0 558.3,650.1 556.7,648.8 555.0,650.0 553.3,650.9 551.7,649.2 550.0,650.0 548.3,649.7 546.7,647.7 545.0,648.0 543.3,648.0 541.7,649.3 540.0,651.0 538.0,648.9 536.0,648.0 534.0,649.8 532.0,651.0 530.0,649.7 528.0,650.0 526.0,650.8 524.0,652.0 522.0,653.5 520.0,655.0 518.0,655.0 516.0,653.0 514.0,652.9 512.0,651.0 510.0,652.7 508.0,654.0 506.0,652.8 504.0,652.0 502.0,649.5 500.0,649.0 498.0,649.4 496.0,650.0 494.0,650.3 492.0,649.0 490.0,646.7 488.0,644.0 486.3,646.0 484.7,645.9 483.0,648.0 481.0,645.6 479.0,645.0 477.0,645.6 475.0,646.0 473.0,644.6 471.0,645.0 469.0,644.9 467.0,643.0 465.0,642.3 463.0,641.0 461.0,641.9 459.0,643.0 457.5,638.6 456.0,635.0 454.0,639.0 452.0,637.3 450.0,636.0 448.0,636.6 446.0,638.0 444.0,637.0 442.0,637.0 440.0,634.1 438.0,631.0 436.0,632.1 434.0,632.0 432.0,628.6 430.0,624.0 429.0,620.0 427.0,619.7 425.0,620.0 423.0,616.8 421.0,613.0 419.3,609.8 417.6,605.0 416.3,609.5 415.0,613.0 413.0,596.0 411.0,608.0 409.5,598.1 408.0,590.0 406.0,596.9 404.0,605.0 402.5,600.7 401.0,598.0 399.7,592.5 398.4,586.0 397.0,593.9 395.6,602.0 394.3,597.3 393.0,592.0 391.7,588.4 390.4,586.0 388.0,576.0 385.6,559.0 384.3,562.9 383.0,566.0 381.0,576.0 379.0,598.0 377.0,580.0 375.0,564.0 373.7,559.2 372.4,554.0 370.0,538.0 368.0,544.0 366.6,537.0 365.0,580.0 363.6,538.0 362.0,546.0 360.0,528.0 358.0,502.0 355.6,476.0 353.8,473.9 352.0,471.0 350.5,487.8 349.0,504.0 347.6,538.0 346.4,492.0 344.4,478.0 342.0,520.0 339.6,499.0 337.6,510.0 336.3,517.7 335.0,525.0 333.7,519.2 332.4,513.0 330.0,512.0 328.0,471.0 326.4,500.0 324.4,530.0 322.0,548.0 320.0,536.0 318.7,553.8 317.4,570.0 315.6,540.0 313.6,502.0 312.0,500.0 310.4,467.0 309.0,482.1 307.6,496.0 305.6,486.0 303.6,506.0 301.6,520.0 299.6,502.0 297.6,538.0 295.6,542.0 293.6,574.0 291.6,550.0 290.0,516.0 288.4,560.0 287.0,600.0 285.7,609.3 284.4,618.0 282.0,604.0 280.7,610.2 279.4,616.0 277.4,603.0 275.4,606.0 273.6,597.0 272.0,606.0 270.6,620.0 268.6,610.0 266.6,586.0 264.6,564.0 263.0,536.0 261.4,564.0 260.0,589.0 258.0,585.0 256.6,596.0 255.0,628.0 253.4,600.0 251.6,573.0 250.0,594.0 248.6,590.0 247.0,594.0 245.4,618.0 243.4,611.0 242.2,614.3 241.0,616.0 239.5,613.9 238.0,613.0 236.0,618.0 234.6,627.0 233.3,633.0 232.0,641.0 230.4,647.6 228.8,655.0 227.0,650.0 224.9,651.8 223.6,648.2 222.2,646.5 220.9,644.8 219.6,643.0 218.3,638.8 217.0,633.0 215.7,633.9 214.3,634.0 212.9,638.4 211.6,644.7 210.3,639.9 209.0,634.0 207.0,620.0 205.8,610.3 204.6,600.0 202.6,566.0 201.0,556.0 200.0,546.0 199.5,523.0 198.7,523.0 198.3,546.0 197.4,556.0 196.0,561.2 194.6,566.0 192.6,560.0 191.0,566.0 189.5,572.6 188.0,580.0 186.0,600.0 184.6,624.0 182.9,634.0 180.8,643.0 179.0,655.3 177.7,662.0 176.4,669.4 174.9,663.4 173.4,658.0 172.2,661.6 171.0,664.0 169.7,668.8 168.4,673.0 167.1,670.8 165.8,666.8 163.5,676.5 161.4,681.8 159.2,711.8 157.5,703.0 155.7,693.0 154.0,703.0 152.2,704.7 150.8,731.0 149.4,699.0 147.6,673.0 145.8,662.0 144.6,687.0 142.8,664.0 141.0,647.0 139.3,655.0 137.5,673.0 135.8,646.5 134.0,637.6 132.7,628.8 131.4,620.0 129.7,616.5 128.0,614.0 126.0,609.5 124.0,605.0 122.5,605.8 121.0,607.7 119.5,608.0" fill="#5656ff"/>
<polygon points="119.5,221.0 121.2,219.4 123.0,216.0 125.0,213.8 127.0,209.0 129.0,208.6 131.0,207.0 133.0,204.3 135.0,200.0 137.0,195.2 139.0,192.0 141.0,186.0 142.5,188.3 144.0,188.0 145.7,184.3 147.3,181.9 149.0,177.0 151.0,160.0 153.0,146.0 155.0,136.0 157.0,129.0 159.0,132.0 160.0,141.0 162.0,129.0 164.0,128.0 166.0,112.0 168.0,102.0 170.0,93.0 172.0,89.6 173.8,89.7 175.5,89.1 177.2,89.4 179.0,89.0 180.7,89.3 182.3,88.6 184.0,88.7 185.7,89.0 187.3,88.5 189.0,89.0 190.7,88.5 192.3,88.8 194.0,88.3 195.7,88.5 197.3,88.7 199.0,88.4 200.5,88.2 202.1,88.3 203.6,88.5 205.1,88.4 206.7,88.2 208.2,88.3 209.7,88.3 211.3,88.9 212.8,88.6 214.9,89.3 216.3,91.7 217.7,93.0 219.1,95.1 220.6,94.0 222.0,95.9 223.7,98.7 225.0,102.5 227.3,105.5 228.3,102.0 229.3,97.3 230.6,97.7 231.8,96.6 233.9,93.0 236.0,93.0 238.2,95.9 240.3,95.2 241.7,99.4 242.8,102.5 245.0,107.0 246.5,104.4 248.0,104.0 249.5,106.6 251.0,109.0 253.0,111.4 255.0,113.0 257.0,113.1 259.0,114.0 260.5,114.2 262.0,112.4 263.5,113.9 265.0,115.0 267.0,115.7 269.0,116.0 271.0,116.1 273.0,114.0 275.0,112.4 277.0,113.0 279.0,118.0 280.5,119.9 282.0,119.0 283.5,121.4 285.0,123.0 287.0,123.7 289.0,125.0 290.5,126.3 292.0,125.3 293.5,127.9 295.0,127.0 296.5,127.0 298.0,126.1 299.5,127.0 301.0,125.8 302.5,124.8 304.0,126.2 305.5,124.0 307.0,125.0 308.6,126.5 310.2,125.5 311.8,127.2 313.4,128.8 315.0,128.0 316.7,128.1 318.3,128.1 320.0,127.0 321.7,125.9 323.3,125.9 325.0,127.0 326.8,126.8 328.5,128.8 330.2,129.1 332.0,130.0 333.5,130.8 335.0,132.6 336.5,131.2 338.0,133.0 339.7,131.6 341.3,132.1 343.0,131.0 344.5,129.4 346.0,129.1 347.5,129.8 349.0,130.0 350.7,126.9 352.3,125.6 354.0,124.0 355.7,125.2 357.3,128.2 359.0,130.0 360.5,130.0 362.0,128.7 363.5,129.6 365.0,129.0 366.7,127.9 368.3,126.0 370.0,126.0 371.5,128.2 373.0,128.0 375.0,129.3 377.0,132.0 379.0,133.5 381.0,137.0 383.0,134.0 385.0,135.4 387.0,139.0 389.0,141.9 391.0,144.0 392.5,144.5 394.0,143.0 395.5,146.3 397.0,148.0 399.0,150.7 401.0,154.0 403.0,155.3 405.0,158.0 407.0,155.1 409.0,155.0 410.5,156.2 412.0,156.7 413.5,156.8 415.0,158.0 416.5,158.2 418.0,157.3 419.5,158.5 421.0,157.0 423.0,159.2 425.0,160.0 426.5,159.8 428.0,162.1 429.5,160.2 431.0,162.0 432.7,162.6 434.3,162.8 436.0,163.6 437.7,161.7 439.3,160.0 441.0,160.0 442.5,160.5 444.0,158.1 445.5,159.4 447.0,159.0 448.5,159.7 450.0,157.0 451.5,156.7 453.0,157.0 454.5,157.6 456.0,157.5 457.5,158.1 459.0,158.0 460.5,159.4 462.0,159.0 463.5,157.1 465.0,156.5 466.5,155.4 468.0,155.0 470.0,154.2 472.0,156.0 474.0,155.6 476.0,153.0 477.5,154.3 479.0,154.0 480.7,153.3 482.3,150.0 484.0,150.0 486.0,152.0 488.0,152.0 489.5,152.2 491.0,151.0 493.0,153.4 495.0,156.0 497.0,158.2 499.0,159.0 500.5,159.4 502.0,159.2 503.5,159.4 505.0,161.0 507.0,161.8 509.0,164.0 511.0,161.7 513.0,162.0 515.0,163.5 517.0,166.0 519.0,166.2 521.0,165.0 522.5,166.0 524.0,167.0 525.5,167.1 527.0,167.0 528.7,166.7 530.3,167.8 532.0,168.0 534.0,166.3 536.0,165.0 537.5,167.8 539.0,169.0 540.5,168.8 542.0,167.8 543.5,168.6 545.0,168.0 546.5,168.8 548.0,166.2 549.5,167.6 551.0,166.0 553.0,164.6 555.0,166.0 556.5,167.8 558.0,171.0 560.0,168.8 562.0,168.0 563.5,168.7 565.0,168.0 567.0,170.7 569.0,171.0 571.0,173.2 573.0,174.0 574.5,171.0 576.0,169.0 577.5,169.1 579.0,167.0 580.5,167.5 582.0,169.0 584.0,166.0 585.5,167.3 587.0,170.0 589.0,170.6 591.0,169.0 593.0,170.9 595.0,172.0 597.0,176.0 599.0,173.0 600.5,174.5 602.0,175.0 604.0,172.5 606.0,169.0 607.5,169.8 609.0,168.0 611.0,170.4 613.0,173.0 614.5,173.0 616.0,171.0 618.0,168.1 620.0,164.0 621.7,166.0 623.3,165.8 625.0,167.0 627.0,168.6 629.0,169.0 630.5,169.7 632.0,170.0 633.7,168.1 635.3,166.5 637.0,166.0 638.5,167.1 640.0,166.3 641.5,169.4 643.0,169.0 644.5,167.5 646.0,166.7 647.5,166.4 649.0,167.0 650.5,168.0 652.0,166.1 653.5,165.2 655.0,166.0 657.0,163.2 659.0,163.0 661.0,162.7 663.0,165.0 664.5,162.0 666.0,158.0 667.5,160.4 669.0,162.0 671.0,160.1 673.0,157.0 674.7,160.3 676.3,161.1 678.0,165.0 680.0,160.8 682.0,156.0 683.7,156.6 685.3,158.9 687.0,159.0 689.0,155.9 691.0,151.0 692.5,152.3 694.0,150.3 695.5,152.8 697.0,152.0 699.0,151.7 701.0,149.0 702.7,149.2 704.3,145.9 706.0,146.0 707.7,146.5 709.3,147.6 711.0,150.0 712.5,146.2 714.0,145.0 715.7,144.6 717.3,143.2 719.0,141.0 721.0,140.4 723.0,139.0 725.0,138.4 727.0,136.0 728.4,134.5 730.0,134.6 731.6,133.4 733.2,132.6 734.8,133.4 736.9,127.6 738.5,124.9 739.8,123.5 741.1,124.4 743.3,120.1 745.4,116.4 747.0,115.3 748.6,112.7 750.0,111.2 751.4,110.8 752.8,110.6 754.1,108.3 755.4,106.4 757.0,101.6 759.2,101.0 761.3,99.0 763.4,95.2 765.5,97.9 767.6,101.0 770.0,103.6 771.9,104.2 773.8,107.4 775.2,103.9 776.6,101.8 778.5,99.8 780.4,99.0 782.1,103.7 783.8,106.8 785.5,111.2 787.9,106.5 789.3,106.0 790.7,106.5 792.4,103.5 794.0,98.0 795.4,94.2 796.8,90.3 798.2,91.5 799.6,90.7 800.6,103.6 801.5,115.9 803.0,116.0 804.4,115.4 806.2,113.0 808.1,110.2 810.5,116.8 811.9,113.8 813.3,113.5 815.1,112.3 817.0,111.6 819.0,107.0 820.8,110.2 822.2,115.9 824.6,120.1 826.9,121.0 828.8,126.2 830.0,122.3 831.2,118.7 833.5,115.9 833.5,482.4 832.2,485.4 831.0,489.4 829.4,498.8 827.5,485.9 825.9,489.4 823.5,480.0 821.2,468.0 820.0,470.7 818.8,471.8 817.4,466.5 816.0,461.0 814.5,456.2 812.9,451.8 810.6,454.0 809.4,430.6 808.2,400.0 807.3,387.0 805.9,369.4 804.5,355.3 803.0,355.1 801.5,355.3 800.2,320.0 798.8,307.6 797.1,295.3 795.3,283.8 793.5,282.9 791.8,291.8 790.0,281.2 788.7,281.4 787.4,282.9 786.1,293.5 784.7,288.2 783.4,287.1 782.1,284.7 780.3,276.8 779.1,281.2 777.6,282.9 775.9,272.4 774.5,285.6 772.4,287.4 770.6,291.8 769.2,293.6 767.9,295.3 766.6,289.9 765.3,284.7 763.2,275.0 761.8,277.6 760.0,291.8 757.9,300.6 756.1,321.8 755.0,369.4 752.9,374.7 751.2,390.6 750.3,380.9 748.5,381.0 746.8,381.8 745.9,400.0 744.7,423.5 742.8,447.0 741.2,456.5 739.3,481.0 737.6,494.0 736.0,522.0 734.0,550.6 731.8,564.7 730.3,559.7 728.9,553.0 727.4,565.5 725.9,578.8 724.4,587.5 722.8,595.1 721.2,602.0 719.8,605.9 718.4,607.5 717.0,612.0 715.4,611.3 713.8,608.7 711.6,620.0 709.5,602.0 708.0,595.8 706.4,589.6 704.5,595.8 702.5,602.0 701.2,582.4 700.0,584.1 698.8,583.5 697.4,577.8 696.0,573.0 693.6,578.8 691.3,565.9 689.8,580.5 688.2,593.0 685.9,581.0 684.1,577.4 682.4,573.0 680.6,574.4 678.8,575.3 677.2,573.0 675.6,573.3 674.0,571.8 672.3,578.0 670.6,583.5 669.2,575.4 667.8,569.4 666.2,578.8 664.7,586.0 662.4,574.0 660.7,562.3 659.0,551.0 657.7,569.7 656.4,589.0 654.0,565.0 652.5,568.3 651.0,570.0 649.7,560.9 648.4,551.0 647.0,561.0 645.0,529.0 643.6,564.0 642.0,554.0 639.6,542.0 638.3,545.7 637.0,549.0 635.7,552.9 634.4,557.0 632.4,568.0 630.4,540.0 629.0,550.0 627.7,549.3 626.4,547.0 625.0,541.3 623.6,538.0 622.3,535.4 621.0,531.0 619.0,547.0 617.6,538.0 616.3,543.6 615.0,549.0 613.3,544.5 611.6,540.0 609.6,523.0 608.0,530.0 606.4,537.0 605.0,540.6 603.6,546.0 601.6,562.0 599.6,548.0 597.6,562.0 595.6,548.0 594.3,538.4 593.0,529.0 591.5,532.4 590.0,538.0 588.4,556.0 586.0,545.0 583.6,530.0 582.0,547.5 580.4,565.0 579.0,555.6 577.6,548.0 575.6,565.0 574.3,567.4 573.0,571.0 570.6,547.0 569.3,556.4 568.0,567.0 566.5,556.6 565.0,546.0 563.5,548.9 562.0,550.0 560.5,551.9 559.0,554.0 557.0,569.0 555.7,559.1 554.4,548.0 552.4,570.0 551.0,561.0 549.0,570.0 547.3,563.1 545.6,556.0 544.3,562.0 543.0,567.0 541.0,559.0 539.0,580.0 537.5,569.8 536.0,561.0 534.5,573.3 533.0,584.0 531.0,574.0 529.7,570.7 528.4,566.0 526.4,586.0 525.0,581.9 523.6,576.0 522.3,578.9 521.0,581.0 519.0,576.0 517.0,590.0 515.6,574.0 513.6,555.0 511.8,561.7 510.0,567.0 507.6,575.0 506.3,567.8 505.0,560.0 503.5,554.9 502.0,548.0 500.5,540.7 499.0,535.0 497.0,542.0 495.5,535.2 494.0,527.0 492.4,502.0 490.0,492.0 488.0,468.0 485.6,476.0 484.3,491.0 483.0,504.0 481.0,484.0 479.7,493.2 478.4,504.0 477.0,493.6 475.6,484.0 474.3,476.7 473.0,468.0 471.5,463.4 470.0,460.0 467.6,443.0 465.6,460.0 464.3,442.1 463.0,426.0 461.0,401.0 459.0,446.0 457.7,421.0 456.4,398.0 454.4,417.0 452.4,387.0 451.0,387.4 449.6,389.0 447.8,392.4 446.0,395.0 444.7,392.6 443.4,388.0 441.4,392.0 439.4,388.0 437.4,376.0 435.0,390.0 433.0,379.0 431.5,374.3 430.0,372.0 428.5,366.8 427.0,364.0 425.0,355.0 423.5,356.8 422.0,358.0 420.0,356.0 418.0,349.0 416.0,356.0 414.3,358.8 412.6,360.0 411.0,354.0 408.6,337.0 406.6,345.0 405.3,344.6 404.0,346.0 402.5,345.7 401.0,344.0 399.0,334.0 397.0,336.0 395.5,330.0 394.0,322.0 392.6,326.0 391.0,319.0 389.0,330.0 388.0,322.0 386.0,310.0 384.6,312.0 383.3,309.8 382.0,306.0 380.7,313.4 379.4,323.0 378.0,312.0 376.0,302.0 374.5,297.9 373.0,292.0 370.6,296.0 369.0,294.0 367.4,290.0 365.0,297.0 363.0,292.7 361.0,289.0 358.6,281.0 357.3,282.9 356.0,284.0 354.0,280.0 352.5,282.3 351.0,284.0 349.5,286.3 348.0,289.0 346.0,283.0 344.5,283.5 343.0,284.0 341.0,285.5 339.0,288.0 337.5,290.9 336.0,295.0 334.0,292.0 332.0,290.0 330.5,288.5 329.0,286.0 327.0,275.0 325.0,283.0 323.5,282.3 322.0,284.0 320.5,280.2 319.0,278.0 317.5,278.8 316.0,280.0 314.0,273.0 312.0,271.4 310.0,271.0 308.0,279.0 306.5,274.2 305.0,270.0 303.0,274.4 301.0,280.0 299.5,276.8 298.0,272.0 296.5,279.2 295.0,287.0 293.5,288.3 292.0,288.0 290.5,282.6 289.0,279.0 288.0,288.0 286.7,296.1 285.4,304.0 283.0,292.0 281.5,290.0 280.0,289.0 278.5,288.4 277.0,288.0 275.5,288.3 274.0,287.0 272.5,293.8 271.0,299.0 269.5,294.8 268.0,290.0 266.5,286.1 265.0,283.0 262.6,271.0 261.3,274.6 260.0,276.0 258.0,270.0 256.5,273.8 255.0,279.0 253.5,274.6 252.0,270.0 250.5,266.4 249.0,263.0 247.5,266.8 246.0,270.0 244.0,283.0 242.7,282.7 241.4,281.0 240.2,276.2 239.0,270.0 237.5,264.6 236.0,261.0 234.5,265.8 233.0,272.0 231.0,270.0 229.6,290.0 227.6,315.0 226.0,286.0 224.7,290.7 223.4,296.0 221.4,269.0 220.0,276.0 218.0,262.0 216.0,266.0 214.6,252.0 213.0,262.0 211.0,262.0 209.5,256.7 208.0,250.0 206.5,244.3 205.0,240.0 203.5,236.1 202.0,232.0 200.5,233.1 199.0,232.0 197.5,234.1 196.0,235.0 194.0,238.3 192.0,243.0 190.5,247.9 189.0,254.0 187.5,259.6 186.0,266.0 184.0,300.0 182.6,272.0 181.3,277.5 180.0,282.0 179.0,318.0 177.0,290.0 176.0,336.0 174.5,352.8 173.0,370.0 172.6,400.0 172.0,416.0 170.0,442.0 168.0,460.0 166.0,481.0 164.0,477.0 162.0,466.0 160.0,485.0 158.0,497.0 156.0,491.0 154.5,496.8 153.0,503.0 151.0,520.0 149.4,547.0 148.2,531.3 147.0,518.0 145.8,513.3 144.6,509.0 142.6,516.0 141.0,491.0 139.5,491.5 138.0,493.0 136.6,517.0 135.0,509.0 133.5,506.4 132.0,506.0 130.0,501.7 128.0,498.0 126.3,501.5 124.7,501.8 123.0,505.0 121.2,504.1 119.5,502.0" fill="#2b2bff"/>
<polyline points="119.5,732.0 121.1,732.0 122.7,732.0 124.3,732.0 125.9,732.0 127.5,732.0 129.1,732.0 130.7,732.0 132.3,732.0 133.9,732.0 135.5,732.0 137.1,732.0 138.7,732.0 140.3,732.0 141.9,732.0 143.5,732.0 145.1,732.0 146.7,732.0 148.2,732.0 149.8,732.0 151.4,732.0 153.0,732.0 154.6,732.0 156.2,732.0 157.8,732.0 159.4,732.0 161.0,732.0 162.6,732.0 164.2,732.0 165.8,732.0 167.4,732.0 169.0,732.0 170.6,732.0 172.2,732.0 173.8,732.0 175.4,732.0 177.0,732.0 178.6,732.0 180.2,732.0 181.8,732.0 183.4,732.0 185.0,732.0 186.6,732.0 188.2,732.0 189.8,732.0 191.4,732.0 193.0,732.0 194.6,732.0 196.2,732.0 197.8,732.0 199.4,732.0 201.0,732.0 202.6,732.0 204.2,732.0 205.8,732.0 207.3,732.0 208.9,732.0 210.5,732.0 212.1,732.0 213.7,732.0 215.3,732.0 216.9,732.0 218.5,732.0 220.1,732.0 221.7,732.0 223.3,732.0 224.9,732.0 226.5,732.0 228.1,732.0 229.7,732.0 231.3,732.0 232.9,732.0 234.5,732.0 236.1,732.0 237.7,732.0 239.3,732.0 240.9,732.0 242.5,732.0 244.1,732.0 245.7,732.0 247.3,732.0 248.9,732.0 250.5,732.0 252.1,732.0 253.7,732.0 255.3,732.0 256.9,732.0 258.5,732.0 260.1,732.0 261.7,732.0 263.2,732.0 264.8,732.0 266.4,732.0 268.0,732.0 269.6,732.0 271.2,732.0 272.8,732.0 274.4,732.0 276.0,732.0 277.6,732.0 279.2,732.0 280.8,732.0 282.4,732.0 284.0,732.0 285.6,732.0 287.2,732.0 288.8,732.0 290.4,732.0 292.0,732.0 293.0,722.0 294.4,731.0 295.6,720.0 298.0,722.0 300.0,715.0 301.5,716.3 303.0,718.0 304.5,722.2 306.0,726.0 307.3,718.6 308.6,713.0 310.1,712.2 311.6,712.0 314.0,726.0 315.8,729.2 317.6,731.0 320.0,722.0 321.5,719.5 323.0,718.0 324.5,713.1 326.0,708.0 327.5,706.0 329.0,704.0 331.0,710.0 333.0,707.0 334.3,710.1 335.6,714.0 337.6,721.0 340.0,708.0 342.0,704.0 344.0,705.0 346.0,696.0 348.0,706.0 349.5,710.9 351.0,714.0 352.3,716.6 353.6,720.0 356.0,712.0 358.0,716.0 359.3,722.0 360.6,727.0 363.0,718.0 364.5,712.9 366.0,709.0 368.4,721.0 369.7,717.2 371.0,715.0 372.3,714.2 373.6,712.0 375.3,713.9 377.0,716.0 378.5,713.2 380.0,712.0 381.5,709.3 383.0,707.0 384.5,706.9 386.0,707.0 387.5,711.9 389.0,716.0 390.5,721.3 392.0,728.0 393.5,723.5 395.0,720.0 396.5,717.8 398.0,714.0 400.0,713.9 402.0,713.0 404.0,709.9 406.0,708.0 408.4,703.0 409.7,710.2 411.0,718.0 413.0,702.0 414.3,706.7 415.6,712.0 418.0,705.0 419.5,708.3 421.0,711.0 422.5,715.7 424.0,720.0 425.5,725.6 427.0,730.0 428.5,723.1 430.0,715.0 432.0,714.0 434.0,713.0 436.0,711.9 438.0,710.0 439.5,712.9 441.0,715.0 443.0,714.0 445.0,712.0 447.0,714.0 449.0,716.0 451.0,711.0 452.7,719.0 454.4,726.0 456.4,708.0 458.0,718.0 459.6,708.0 461.0,717.0 462.5,713.9 464.0,710.0 466.0,709.2 468.0,707.0 470.0,704.8 472.0,704.0 473.8,707.2 475.6,709.0 477.3,704.6 479.0,702.0 481.0,702.0 483.0,701.0 485.0,702.2 487.0,703.0 488.5,701.5 490.0,700.0 492.0,702.8 494.0,704.0 496.0,701.1 498.0,698.0 500.0,698.9 502.0,700.0 503.5,704.5 505.0,708.0 507.4,718.0 509.0,704.0 511.0,706.7 513.0,708.0 514.7,709.7 516.4,711.0 517.7,707.8 519.0,705.0 521.0,701.9 523.0,699.0 524.5,702.4 526.0,706.0 527.5,704.4 529.0,702.0 531.0,703.1 533.0,705.0 535.0,701.3 537.0,698.0 539.4,712.0 541.2,709.1 543.0,706.0 544.5,701.8 546.0,698.0 547.7,703.7 549.4,710.0 550.9,709.5 552.4,708.0 553.7,703.1 555.0,697.0 557.0,698.0 559.0,699.0 561.0,698.4 563.0,698.0 564.7,694.4 566.4,692.0 568.2,695.1 570.0,699.0 571.5,697.9 573.0,698.0 575.0,701.1 577.0,704.0 578.7,708.1 580.4,712.0 582.2,706.3 584.0,702.0 586.0,701.8 588.0,700.0 589.5,700.2 591.0,701.0 592.5,700.6 594.0,699.0 595.5,701.6 597.0,703.0 598.5,705.3 600.0,706.0 601.7,705.8 603.3,706.5 605.0,707.0 606.5,706.7 608.1,704.1 609.6,704.0 612.0,708.0 614.0,704.0 616.0,706.7 618.0,711.0 620.0,709.1 622.0,707.0 624.0,708.5 626.0,710.0 628.0,709.3 630.0,707.0 631.7,708.8 633.3,709.7 635.0,711.0 637.0,713.4 639.0,714.0 641.0,713.5 643.0,713.0 644.7,713.4 646.3,714.0 648.0,714.0 650.0,715.8 652.0,718.0 654.0,719.2 656.0,721.0 657.5,717.7 659.0,714.0 660.5,716.2 662.0,719.0 664.0,718.3 666.0,716.0 667.7,717.7 669.3,718.7 671.0,720.0 672.7,717.9 674.3,717.1 676.0,716.0 678.0,717.3 680.0,719.0 682.0,719.6 684.0,720.0 686.0,718.6 688.0,717.0 690.0,720.2 692.0,722.0 694.0,723.8 696.0,724.0 698.0,725.0 700.0,726.0 702.0,728.4 704.0,731.0 706.0,730.5 708.0,729.6 709.5,731.7 711.0,732.0 712.6,732.0 714.2,732.0 715.8,732.0 717.4,732.0 719.0,732.0 720.5,732.0 722.1,732.0 723.7,732.0 725.3,732.0 726.9,732.0 728.5,732.0 730.1,732.0 731.7,732.0 733.3,732.0 734.9,732.0 736.5,732.0 738.0,732.0 739.6,732.0 741.2,732.0 742.8,732.0 744.4,732.0 746.0,732.0 747.6,732.0 749.2,732.0 750.8,732.0 752.4,732.0 754.0,732.0 755.5,732.0 757.1,732.0 758.7,732.0 760.3,732.0 761.9,732.0 763.5,732.0 765.1,732.0 766.7,732.0 768.3,732.0 769.9,732.0 771.5,732.0 773.0,732.0 774.6,732.0 776.2,732.0 777.8,732.0 779.4,732.0 781.0,732.0 782.6,732.0 784.2,732.0 785.8,732.0 787.4,732.0 789.0,732.0 790.5,732.0 792.1,732.0 793.7,732.0 795.3,732.0 796.9,732.0 798.5,732.0 800.1,732.0 801.7,732.0 803.3,732.0 804.9,732.0 806.5,732.0 808.0,732.0 809.6,732.0 811.2,732.0 812.8,732.0 814.4,732.0 816.0,732.0 817.6,732.0 819.2,732.0 820.8,732.0 822.4,732.0 824.0,732.0 825.5,732.0 827.1,732.0 828.7,732.0 830.3,732.0 831.9,732.0 833.5,732.0" fill="none" stroke="#ccccff" stroke-width="0.75" stroke-dasharray="3.22 0.75" stroke-linejoin="round" />
<polyline points="119.5,732.0 121.0,732.0 122.5,732.0 123.8,722.6 125.2,711.8 127.0,732.0 128.6,732.0 130.2,732.0 131.8,732.0 133.4,732.0 135.0,732.0 136.6,732.0 138.2,732.0 139.8,732.0 141.4,732.0 143.0,732.0 144.6,732.0 146.2,732.0 147.8,732.0 149.4,732.0 151.0,732.0 152.6,732.0 154.3,732.0 155.9,732.0 157.5,732.0 159.1,732.0 160.7,732.0 162.3,732.0 163.9,732.0 165.5,732.0 167.1,732.0 168.7,732.0 170.3,732.0 171.9,732.0 173.5,732.0 175.1,732.0 176.7,732.0 178.3,732.0 179.9,732.0 181.1,711.8 182.9,704.7 184.6,708.0 185.8,699.1 187.0,690.6 188.7,683.5 191.0,675.6 193.0,680.0 194.4,678.3 195.8,676.5 197.1,673.2 198.4,671.0 200.2,663.0 202.3,673.0 204.6,680.0 206.7,671.0 209.0,680.0 210.3,683.3 211.6,688.0 212.9,685.7 214.3,681.8 215.7,679.7 217.0,678.0 218.7,676.5 220.0,679.4 221.3,683.5 223.1,679.0 224.4,677.1 225.8,674.7 227.1,679.6 228.4,683.5 230.5,688.8 232.8,681.8 235.1,674.7 237.2,669.4 238.6,672.4 239.9,676.5 241.7,680.2 243.4,683.5 245.7,680.0 247.8,671.0 249.2,676.2 250.5,681.8 252.2,686.0 253.6,684.8 254.9,683.5 256.2,678.3 257.5,674.7 258.9,670.4 260.2,667.6 261.6,666.6 263.0,664.0 264.5,667.6 266.0,670.0 268.0,673.5 270.0,677.0 271.5,674.6 273.0,672.0 274.5,673.6 276.0,676.0 277.5,674.9 279.0,673.0 281.0,675.4 283.0,678.0 284.5,676.7 286.0,674.0 288.0,671.9 290.0,669.0 292.0,660.0 294.4,652.0 295.7,650.0 297.0,647.0 298.5,649.2 300.0,650.0 302.0,655.0 304.0,641.0 305.5,647.1 307.0,654.0 308.3,644.3 309.6,636.0 311.0,646.5 312.4,658.0 314.0,652.0 316.0,655.5 318.0,660.0 319.5,657.3 321.0,656.0 322.5,654.3 324.0,654.0 325.5,647.6 327.0,641.0 328.5,642.1 330.0,642.0 331.5,645.9 333.0,650.0 334.3,655.7 335.6,660.0 338.0,648.0 339.5,644.7 341.0,640.0 342.5,635.3 344.0,632.0 346.0,623.0 348.0,637.0 350.4,634.0 351.7,636.7 353.0,639.0 355.0,637.0 356.5,640.3 358.0,644.0 359.5,644.9 361.0,647.0 362.3,644.7 363.6,641.0 366.0,649.0 367.5,649.1 369.0,650.0 370.5,654.1 372.0,658.0 373.5,658.7 375.0,659.0 376.5,664.2 378.0,668.0 379.5,662.3 381.0,656.0 382.7,650.3 384.4,645.0 386.2,648.4 388.0,652.0 389.5,653.5 391.0,656.0 392.5,657.7 394.0,658.0 396.0,661.8 398.0,664.0 399.5,661.6 401.0,660.0 402.5,660.3 404.0,662.0 405.5,659.6 407.0,658.0 408.3,654.8 409.6,652.0 412.0,660.0 413.5,658.6 415.0,656.0 416.5,658.6 418.0,660.0 419.5,661.5 421.0,662.0 422.5,662.3 424.0,664.0 425.8,666.0 427.6,667.0 430.0,666.0 432.0,667.3 434.0,668.0 436.0,666.7 438.0,665.0 440.0,667.8 442.0,669.0 443.5,667.8 445.0,667.4 446.5,667.9 448.0,667.0 450.0,668.7 452.0,669.0 453.7,669.9 455.3,670.0 457.0,671.0 458.7,669.8 460.3,668.7 462.0,667.0 463.7,666.0 465.3,666.1 467.0,666.0 468.7,665.3 470.3,664.7 472.0,665.0 473.5,665.2 475.0,665.0 476.5,665.3 478.0,666.0 479.7,665.1 481.3,665.6 483.0,665.0 484.7,663.6 486.3,664.0 488.0,663.0 489.7,663.5 491.3,664.3 493.0,666.0 494.7,667.0 496.3,666.2 498.0,667.0 499.7,667.7 501.3,667.6 503.0,667.0 504.7,668.6 506.3,668.4 508.0,670.0 510.0,668.9 512.0,668.0 513.7,668.0 515.3,670.0 517.0,670.0 518.7,669.5 520.3,668.2 522.0,667.0 523.7,667.9 525.3,668.7 527.0,670.0 528.7,669.5 530.3,668.0 532.0,667.0 533.5,667.0 535.0,665.9 536.5,665.8 538.0,666.0 539.5,665.0 541.0,665.8 542.5,665.3 544.0,665.0 545.5,664.7 547.0,666.1 548.5,665.4 550.0,666.0 551.5,665.9 553.0,665.4 554.5,665.6 556.0,666.0 557.5,666.3 559.0,665.2 560.5,664.7 562.0,665.0 563.5,664.7 565.0,664.2 566.5,664.9 568.0,664.0 570.0,663.4 572.0,664.0 573.5,665.5 575.0,664.8 576.5,666.9 578.0,667.0 579.5,667.8 581.0,667.5 582.5,668.5 584.0,669.0 585.5,668.7 587.0,668.6 588.5,668.5 590.0,669.0 591.7,668.4 593.3,669.1 595.0,668.0 596.7,670.1 598.3,671.3 600.0,672.0 601.7,671.4 603.3,671.7 605.0,672.0 606.5,671.6 608.1,669.3 609.6,669.0 611.1,670.7 612.5,671.3 614.0,673.0 615.5,673.3 617.0,671.2 618.5,672.0 620.0,671.0 621.5,672.0 623.0,672.9 624.5,674.0 626.0,676.0 627.5,676.3 629.0,675.5 630.5,674.7 632.0,675.0 633.6,675.1 635.2,676.1 636.8,675.1 638.4,675.9 640.0,676.0 641.8,675.2 643.5,675.0 645.2,675.7 647.0,675.0 648.5,676.6 650.0,677.0 651.5,678.1 653.0,680.0 654.5,678.6 656.0,678.7 657.5,677.7 659.0,677.0 660.7,677.6 662.3,678.5 664.0,680.0 665.5,681.2 667.0,682.3 668.5,683.5 670.0,684.0 671.7,682.1 673.3,679.5 675.0,678.0 676.7,679.0 678.3,681.7 680.0,683.0 681.5,682.6 683.0,682.9 684.5,681.5 686.0,682.0 687.5,683.5 689.0,683.7 690.5,685.5 692.0,686.0 693.7,687.6 695.3,688.0 697.0,689.0 699.0,690.2 701.0,693.0 703.0,697.2 705.0,700.0 707.0,698.5 709.0,697.0 711.0,700.1 713.0,702.0 715.0,705.6 717.0,710.0 719.0,708.0 721.0,707.0 723.0,709.5 725.0,711.0 727.0,711.3 729.0,712.0 730.3,709.0 731.6,707.0 733.3,710.3 735.0,714.0 737.0,714.7 739.0,715.0 741.0,713.7 743.0,714.0 744.5,718.0 746.0,722.0 747.5,719.9 749.0,718.0 750.3,723.0 751.6,728.0 754.0,732.0 755.6,732.0 757.1,732.0 758.7,732.0 760.2,732.0 761.8,732.0 763.3,732.0 764.9,732.0 766.5,732.0 768.0,732.0 769.6,732.0 771.1,732.0 772.7,732.0 774.3,732.0 775.8,732.0 777.4,732.0 778.9,732.0 780.5,732.0 782.0,732.0 783.6,732.0 785.8,720.0 787.9,721.0 789.5,722.5 791.0,725.0 792.8,695.5 794.2,706.0 796.4,685.0 798.5,674.4 800.6,704.0 802.7,725.0 804.8,695.5 806.3,687.0 808.4,699.8 810.5,710.4 812.2,708.0 814.4,727.0 816.0,723.0 818.2,732.0 819.9,732.0 821.6,732.0 823.3,732.0 824.9,732.0 826.6,732.0 828.3,732.0 830.0,732.0 832.4,721.0 833.5,719.0" fill="none" stroke="#aaaaff" stroke-width="1.17" stroke-dasharray="5.03 1.17" stroke-linejoin="round" />
<polyline points="119.5,608.0 121.0,607.7 122.5,605.8 124.0,605.0 126.0,609.5 128.0,614.0 129.7,616.5 131.4,620.0 132.7,628.8 134.0,637.6 135.8,646.5 137.5,673.0 139.3,655.0 141.0,647.0 142.8,664.0 144.6,687.0 145.8,662.0 147.6,673.0 149.4,699.0 150.8,731.0 152.2,704.7 154.0,703.0 155.7,693.0 157.5,703.0 159.2,711.8 161.4,681.8 163.5,676.5 165.8,666.8 167.1,670.8 168.4,673.0 169.7,668.8 171.0,664.0 172.2,661.6 173.4,658.0 174.9,663.4 176.4,669.4 177.7,662.0 179.0,655.3 180.8,643.0 182.9,634.0 184.6,624.0 186.0,600.0 188.0,580.0 189.5,572.6 191.0,566.0 192.6,560.0 194.6,566.0 196.0,561.2 197.4,556.0 198.3,546.0 198.7,523.0 199.5,523.0 200.0,546.0 201.0,556.0 202.6,566.0 204.6,600.0 205.8,610.3 207.0,620.0 209.0,634.0 210.3,639.9 211.6,644.7 212.9,638.4 214.3,634.0 215.7,633.9 217.0,633.0 218.3,638.8 219.6,643.0 220.9,644.8 222.2,646.5 223.6,648.2 224.9,651.8 227.0,650.0 228.8,655.0 230.4,647.6 232.0,641.0 233.3,633.0 234.6,627.0 236.0,618.0 238.0,613.0 239.5,613.9 241.0,616.0 242.2,614.3 243.4,611.0 245.4,618.0 247.0,594.0 248.6,590.0 250.0,594.0 251.6,573.0 253.4,600.0 255.0,628.0 256.6,596.0 258.0,585.0 260.0,589.0 261.4,564.0 263.0,536.0 264.6,564.0 266.6,586.0 268.6,610.0 270.6,620.0 272.0,606.0 273.6,597.0 275.4,606.0 277.4,603.0 279.4,616.0 280.7,610.2 282.0,604.0 284.4,618.0 285.7,609.3 287.0,600.0 288.4,560.0 290.0,516.0 291.6,550.0 293.6,574.0 295.6,542.0 297.6,538.0 299.6,502.0 301.6,520.0 303.6,506.0 305.6,486.0 307.6,496.0 309.0,482.1 310.4,467.0 312.0,500.0 313.6,502.0 315.6,540.0 317.4,570.0 318.7,553.8 320.0,536.0 322.0,548.0 324.4,530.0 326.4,500.0 328.0,471.0 330.0,512.0 332.4,513.0 333.7,519.2 335.0,525.0 336.3,517.7 337.6,510.0 339.6,499.0 342.0,520.0 344.4,478.0 346.4,492.0 347.6,538.0 349.0,504.0 350.5,487.8 352.0,471.0 353.8,473.9 355.6,476.0 358.0,502.0 360.0,528.0 362.0,546.0 363.6,538.0 365.0,580.0 366.6,537.0 368.0,544.0 370.0,538.0 372.4,554.0 373.7,559.2 375.0,564.0 377.0,580.0 379.0,598.0 381.0,576.0 383.0,566.0 384.3,562.9 385.6,559.0 388.0,576.0 390.4,586.0 391.7,588.4 393.0,592.0 394.3,597.3 395.6,602.0 397.0,593.9 398.4,586.0 399.7,592.5 401.0,598.0 402.5,600.7 404.0,605.0 406.0,596.9 408.0,590.0 409.5,598.1 411.0,608.0 413.0,596.0 415.0,613.0 416.3,609.5 417.6,605.0 419.3,609.8 421.0,613.0 423.0,616.8 425.0,620.0 427.0,619.7 429.0,620.0 430.0,624.0 432.0,628.6 434.0,632.0 436.0,632.1 438.0,631.0 440.0,634.1 442.0,637.0 444.0,637.0 446.0,638.0 448.0,636.6 450.0,636.0 452.0,637.3 454.0,639.0 456.0,635.0 457.5,638.6 459.0,643.0 461.0,641.9 463.0,641.0 465.0,642.3 467.0,643.0 469.0,644.9 471.0,645.0 473.0,644.6 475.0,646.0 477.0,645.6 479.0,645.0 481.0,645.6 483.0,648.0 484.7,645.9 486.3,646.0 488.0,644.0 490.0,646.7 492.0,649.0 494.0,650.3 496.0,650.0 498.0,649.4 500.0,649.0 502.0,649.5 504.0,652.0 506.0,652.8 508.0,654.0 510.0,652.7 512.0,651.0 514.0,652.9 516.0,653.0 518.0,655.0 520.0,655.0 522.0,653.5 524.0,652.0 526.0,650.8 528.0,650.0 530.0,649.7 532.0,651.0 534.0,649.8 536.0,648.0 538.0,648.9 540.0,651.0 541.7,649.3 543.3,648.0 545.0,648.0 546.7,647.7 548.3,649.7 550.0,650.0 551.7,649.2 553.3,650.9 555.0,650.0 556.7,648.8 558.3,650.1 560.0,649.0 561.5,647.8 563.0,647.0 564.5,647.9 566.0,647.0 567.7,646.2 569.3,646.8 571.0,646.0 572.7,646.7 574.3,647.8 576.0,650.0 578.0,651.0 580.0,651.0 582.0,649.9 584.0,648.0 585.7,649.7 587.3,650.5 589.0,651.0 591.0,647.2 593.0,645.0 595.0,648.3 597.0,651.0 598.5,651.9 600.0,652.0 601.7,651.3 603.3,651.5 605.0,650.0 607.0,648.0 609.0,647.0 611.0,650.9 613.0,653.0 615.0,653.9 617.0,654.0 619.0,651.5 621.0,651.0 623.0,652.0 625.0,655.0 626.7,655.0 628.3,655.0 630.0,654.0 631.7,653.8 633.3,655.0 635.0,656.0 636.7,656.1 638.3,654.7 640.0,655.0 642.0,654.2 644.0,652.0 646.0,652.5 648.0,653.0 650.0,654.6 652.0,658.0 654.0,658.2 656.0,659.0 657.5,656.1 659.0,653.0 661.0,655.9 663.0,659.0 665.0,659.9 667.0,660.0 669.0,658.8 671.0,659.0 673.0,657.6 675.0,655.0 677.0,656.7 679.0,659.0 680.7,659.6 682.3,659.9 684.0,660.0 685.7,660.5 687.3,661.1 689.0,662.0 690.7,663.2 692.3,664.2 694.0,664.0 695.7,664.9 697.3,664.8 699.0,665.0 701.0,667.1 703.0,670.0 705.0,671.1 707.0,674.0 708.5,674.4 710.0,673.0 712.0,676.4 714.0,679.0 716.0,682.7 718.0,685.0 720.0,683.2 722.0,682.0 723.5,683.7 725.0,685.0 726.5,685.5 728.0,684.0 729.5,682.2 731.0,679.0 732.5,682.7 734.0,686.0 735.5,686.6 737.0,688.0 739.0,686.4 741.0,685.0 742.5,686.3 744.0,686.0 746.0,683.8 748.0,682.0 750.0,684.4 752.0,686.0 754.4,688.0 755.7,684.2 757.0,680.0 758.5,678.3 760.0,675.0 761.5,667.9 762.9,659.5 764.2,664.3 765.6,670.0 767.2,671.7 768.8,675.4 770.4,673.2 772.0,672.0 774.0,666.0 775.8,644.7 777.1,630.7 778.4,617.0 780.5,621.4 782.6,610.8 784.2,604.6 785.8,598.0 787.9,585.4 789.4,585.0 791.8,569.4 793.4,554.0 795.8,569.4 797.4,572.7 799.5,591.8 800.8,606.2 802.0,619.3 804.2,613.0 805.9,605.5 807.1,612.1 808.4,617.2 809.8,622.7 811.2,630.0 812.8,635.9 814.4,640.5 816.5,643.7 817.8,648.5 819.0,652.0 820.9,652.2 822.8,651.0 824.2,650.8 825.6,649.9 827.0,650.0 828.6,651.7 830.2,652.0 831.9,651.6 833.5,650.0" fill="none" stroke="#8585ff" stroke-width="1.50" stroke-dasharray="6.45 1.50" stroke-linejoin="round" />
<polyline points="119.5,502.0 121.2,504.1 123.0,505.0 124.7,501.8 126.3,501.5 128.0,498.0 130.0,501.7 132.0,506.0 133.5,506.4 135.0,509.0 136.6,517.0 138.0,493.0 139.5,491.5 141.0,491.0 142.6,516.0 144.6,509.0 145.8,513.3 147.0,518.0 148.2,531.3 149.4,547.0 151.0,520.0 153.0,503.0 154.5,496.8 156.0,491.0 158.0,497.0 160.0,485.0 162.0,466.0 164.0,477.0 166.0,481.0 168.0,460.0 170.0,442.0 172.0,416.0 172.6,400.0 173.0,370.0 174.5,352.8 176.0,336.0 177.0,290.0 179.0,318.0 180.0,282.0 181.3,277.5 182.6,272.0 184.0,300.0 186.0,266.0 187.5,259.6 189.0,254.0 190.5,247.9 192.0,243.0 194.0,238.3 196.0,235.0 197.5,234.1 199.0,232.0 200.5,233.1 202.0,232.0 203.5,236.1 205.0,240.0 206.5,244.3 208.0,250.0 209.5,256.7 211.0,262.0 213.0,262.0 214.6,252.0 216.0,266.0 218.0,262.0 220.0,276.0 221.4,269.0 223.4,296.0 224.7,290.7 226.0,286.0 227.6,315.0 229.6,290.0 231.0,270.0 233.0,272.0 234.5,265.8 236.0,261.0 237.5,264.6 239.0,270.0 240.2,276.2 241.4,281.0 242.7,282.7 244.0,283.0 246.0,270.0 247.5,266.8 249.0,263.0 250.5,266.4 252.0,270.0 253.5,274.6 255.0,279.0 256.5,273.8 258.0,270.0 260.0,276.0 261.3,274.6 262.6,271.0 265.0,283.0 266.5,286.1 268.0,290.0 269.5,294.8 271.0,299.0 272.5,293.8 274.0,287.0 275.5,288.3 277.0,288.0 278.5,288.4 280.0,289.0 281.5,290.0 283.0,292.0 285.4,304.0 286.7,296.1 288.0,288.0 289.0,279.0 290.5,282.6 292.0,288.0 293.5,288.3 295.0,287.0 296.5,279.2 298.0,272.0 299.5,276.8 301.0,280.0 303.0,274.4 305.0,270.0 306.5,274.2 308.0,279.0 310.0,271.0 312.0,271.4 314.0,273.0 316.0,280.0 317.5,278.8 319.0,278.0 320.5,280.2 322.0,284.0 323.5,282.3 325.0,283.0 327.0,275.0 329.0,286.0 330.5,288.5 332.0,290.0 334.0,292.0 336.0,295.0 337.5,290.9 339.0,288.0 341.0,285.5 343.0,284.0 344.5,283.5 346.0,283.0 348.0,289.0 349.5,286.3 351.0,284.0 352.5,282.3 354.0,280.0 356.0,284.0 357.3,282.9 358.6,281.0 361.0,289.0 363.0,292.7 365.0,297.0 367.4,290.0 369.0,294.0 370.6,296.0 373.0,292.0 374.5,297.9 376.0,302.0 378.0,312.0 379.4,323.0 380.7,313.4 382.0,306.0 383.3,309.8 384.6,312.0 386.0,310.0 388.0,322.0 389.0,330.0 391.0,319.0 392.6,326.0 394.0,322.0 395.5,330.0 397.0,336.0 399.0,334.0 401.0,344.0 402.5,345.7 404.0,346.0 405.3,344.6 406.6,345.0 408.6,337.0 411.0,354.0 412.6,360.0 414.3,358.8 416.0,356.0 418.0,349.0 420.0,356.0 422.0,358.0 423.5,356.8 425.0,355.0 427.0,364.0 428.5,366.8 430.0,372.0 431.5,374.3 433.0,379.0 435.0,390.0 437.4,376.0 439.4,388.0 441.4,392.0 443.4,388.0 444.7,392.6 446.0,395.0 447.8,392.4 449.6,389.0 451.0,387.4 452.4,387.0 454.4,417.0 456.4,398.0 457.7,421.0 459.0,446.0 461.0,401.0 463.0,426.0 464.3,442.1 465.6,460.0 467.6,443.0 470.0,460.0 471.5,463.4 473.0,468.0 474.3,476.7 475.6,484.0 477.0,493.6 478.4,504.0 479.7,493.2 481.0,484.0 483.0,504.0 484.3,491.0 485.6,476.0 488.0,468.0 490.0,492.0 492.4,502.0 494.0,527.0 495.5,535.2 497.0,542.0 499.0,535.0 500.5,540.7 502.0,548.0 503.5,554.9 505.0,560.0 506.3,567.8 507.6,575.0 510.0,567.0 511.8,561.7 513.6,555.0 515.6,574.0 517.0,590.0 519.0,576.0 521.0,581.0 522.3,578.9 523.6,576.0 525.0,581.9 526.4,586.0 528.4,566.0 529.7,570.7 531.0,574.0 533.0,584.0 534.5,573.3 536.0,561.0 537.5,569.8 539.0,580.0 541.0,559.0 543.0,567.0 544.3,562.0 545.6,556.0 547.3,563.1 549.0,570.0 551.0,561.0 552.4,570.0 554.4,548.0 555.7,559.1 557.0,569.0 559.0,554.0 560.5,551.9 562.0,550.0 563.5,548.9 565.0,546.0 566.5,556.6 568.0,567.0 569.3,556.4 570.6,547.0 573.0,571.0 574.3,567.4 575.6,565.0 577.6,548.0 579.0,555.6 580.4,565.0 582.0,547.5 583.6,530.0 586.0,545.0 588.4,556.0 590.0,538.0 591.5,532.4 593.0,529.0 594.3,538.4 595.6,548.0 597.6,562.0 599.6,548.0 601.6,562.0 603.6,546.0 605.0,540.6 606.4,537.0 608.0,530.0 609.6,523.0 611.6,540.0 613.3,544.5 615.0,549.0 616.3,543.6 617.6,538.0 619.0,547.0 621.0,531.0 622.3,535.4 623.6,538.0 625.0,541.3 626.4,547.0 627.7,549.3 629.0,550.0 630.4,540.0 632.4,568.0 634.4,557.0 635.7,552.9 637.0,549.0 638.3,545.7 639.6,542.0 642.0,554.0 643.6,564.0 645.0,529.0 647.0,561.0 648.4,551.0 649.7,560.9 651.0,570.0 652.5,568.3 654.0,565.0 656.4,589.0 657.7,569.7 659.0,551.0 660.7,562.3 662.4,574.0 664.7,586.0 666.2,578.8 667.8,569.4 669.2,575.4 670.6,583.5 672.3,578.0 674.0,571.8 675.6,573.3 677.2,573.0 678.8,575.3 680.6,574.4 682.4,573.0 684.1,577.4 685.9,581.0 688.2,593.0 689.8,580.5 691.3,565.9 693.6,578.8 696.0,573.0 697.4,577.8 698.8,583.5 700.0,584.1 701.2,582.4 702.5,602.0 704.5,595.8 706.4,589.6 708.0,595.8 709.5,602.0 711.6,620.0 713.8,608.7 715.4,611.3 717.0,612.0 718.4,607.5 719.8,605.9 721.2,602.0 722.8,595.1 724.4,587.5 725.9,578.8 727.4,565.5 728.9,553.0 730.3,559.7 731.8,564.7 734.0,550.6 736.0,522.0 737.6,494.0 739.3,481.0 741.2,456.5 742.8,447.0 744.7,423.5 745.9,400.0 746.8,381.8 748.5,381.0 750.3,380.9 751.2,390.6 752.9,374.7 755.0,369.4 756.1,321.8 757.9,300.6 760.0,291.8 761.8,277.6 763.2,275.0 765.3,284.7 766.6,289.9 767.9,295.3 769.2,293.6 770.6,291.8 772.4,287.4 774.5,285.6 775.9,272.4 777.6,282.9 779.1,281.2 780.3,276.8 782.1,284.7 783.4,287.1 784.7,288.2 786.1,293.5 787.4,282.9 788.7,281.4 790.0,281.2 791.8,291.8 793.5,282.9 795.3,283.8 797.1,295.3 798.8,307.6 800.2,320.0 801.5,355.3 803.0,355.1 804.5,355.3 805.9,369.4 807.3,387.0 808.2,400.0 809.4,430.6 810.6,454.0 812.9,451.8 814.5,456.2 816.0,461.0 817.4,466.5 818.8,471.8 820.0,470.7 821.2,468.0 823.5,480.0 825.9,489.4 827.5,485.9 829.4,498.8 831.0,489.4 832.2,485.4 833.5,482.4" fill="none" stroke="#6c6cff" stroke-width="1.95" stroke-dasharray="8.38 1.95" stroke-linejoin="round" />
<polyline points="119.5,81.0 121.1,80.8 122.8,80.6 124.4,81.0 126.0,80.5 127.6,80.8 129.2,80.6 130.9,80.4 132.5,80.7 134.1,80.3 135.8,80.5 137.4,80.2 139.0,80.5 140.7,80.1 142.3,80.4 144.0,80.6 145.7,80.0 147.3,80.1 149.0,80.4 150.7,80.6 152.3,80.2 154.0,80.0 155.7,80.5 157.3,79.7 159.0,80.0 160.7,80.2 162.3,79.7 164.0,79.6 165.7,79.5 167.3,79.6 169.0,80.0 170.7,79.4 172.3,79.7 174.0,79.7 175.7,79.4 177.3,79.5 179.0,79.4 180.7,79.0 182.3,79.0 184.0,79.1 185.7,79.4 187.3,79.2 189.0,79.1 190.7,79.2 192.3,79.1 194.0,78.9 195.7,79.3 197.3,79.2 199.0,79.0 200.6,78.8 202.2,79.1 203.8,79.0 205.3,79.3 206.9,79.2 208.5,78.8 210.1,79.4 211.7,78.7 213.3,78.9 214.9,79.2 216.5,78.7 218.1,79.0 219.6,78.6 221.2,79.1 222.8,79.2 224.4,79.0 225.7,72.3 227.2,72.4 228.8,72.6 230.3,72.2 231.8,72.5 233.4,72.4 234.9,72.4 236.5,72.3 238.0,72.6 239.5,72.7 241.1,72.3 242.6,72.3 243.5,77.0 244.8,77.3 246.0,77.3 247.6,77.0 249.2,77.6 250.9,77.7 252.5,78.0 254.1,78.0 255.8,77.7 257.4,77.8 259.0,78.0 260.6,78.1 262.2,77.6 263.7,78.0 265.3,77.7 266.9,77.7 268.5,77.6 270.1,78.2 271.6,77.7 273.2,77.8 274.8,77.9 276.4,78.3 277.9,77.7 279.5,78.0 281.1,78.0 282.7,78.3 284.3,78.3 285.8,78.3 287.4,77.8 289.0,78.0 290.6,77.9 292.2,77.9 293.8,78.3 295.4,78.3 297.0,77.7 298.6,77.7 300.2,77.7 301.8,77.7 303.4,77.9 305.0,78.0 306.6,77.7 308.2,77.5 309.8,77.8 311.4,77.8 313.0,77.9 314.6,78.2 316.2,78.0 317.8,77.9 319.4,77.9 321.0,78.0 322.6,77.5 324.2,78.1 325.8,78.0 327.4,78.1 329.0,77.8 330.6,78.1 332.2,77.8 333.8,77.8 335.4,77.6 337.0,78.1 338.6,77.7 340.2,77.7 341.8,77.9 343.4,77.9 345.0,78.2 346.7,78.1 348.3,77.8 350.0,77.8 351.7,77.9 353.3,77.9 355.0,78.1 356.7,77.8 358.3,78.5 360.0,78.2 361.8,78.0 363.6,77.4 365.4,77.3 367.2,77.2 368.6,77.4 370.1,77.6 371.6,77.7 373.0,78.3 374.6,78.6 376.2,78.8 377.8,78.4 379.4,78.4 381.0,78.2 382.6,78.2 384.2,78.5 385.8,78.4 387.4,78.9 389.0,78.7 390.7,78.5 392.3,78.5 394.0,79.4 395.7,79.1 397.3,78.9 399.0,79.3 400.7,79.0 402.3,79.5 404.0,80.0 405.7,80.0 407.3,80.0 409.0,79.9 410.7,79.8 412.3,80.0 414.0,80.0 415.7,80.6 417.3,80.5 419.0,80.8 420.7,80.5 422.3,80.6 424.0,80.9 425.8,81.5 427.5,82.0 429.2,82.3 431.0,82.4 432.6,82.6 434.1,82.7 435.7,82.6 437.2,82.2 438.8,82.4 440.3,82.3 441.9,82.0 443.4,82.0 445.0,82.2 446.6,82.2 448.1,82.6 449.7,82.8 451.2,82.4 452.8,82.7 454.3,82.8 455.9,82.8 457.4,82.3 459.0,82.4 460.6,82.2 462.2,82.2 463.7,82.2 465.3,82.2 466.9,82.5 468.5,82.7 470.1,82.7 471.6,82.4 473.2,82.5 474.8,82.6 476.4,82.1 477.9,82.5 479.5,82.7 481.1,82.6 482.7,82.6 484.3,82.4 485.8,82.1 487.4,82.6 489.0,82.4 490.6,82.3 492.2,82.8 493.7,83.0 495.3,82.6 496.9,82.6 498.5,83.1 500.1,83.0 501.6,82.6 503.2,82.7 504.8,82.8 506.4,83.4 507.9,83.4 509.5,82.9 511.1,83.5 512.7,83.7 514.3,83.5 515.8,83.4 517.4,83.6 519.0,83.6 520.5,83.4 522.1,83.3 523.6,84.1 525.2,83.9 526.7,83.8 528.3,84.2 529.8,83.9 531.4,84.3 532.9,84.3 534.5,83.8 536.0,84.1 537.6,83.8 539.2,83.8 540.8,83.7 542.5,84.0 544.1,83.6 545.7,83.7 547.3,83.4 548.9,84.0 550.5,83.5 552.2,83.5 553.8,83.6 555.4,83.8 557.0,83.4 558.6,83.4 560.1,83.8 561.7,83.5 563.3,83.5 564.9,83.6 566.4,83.2 568.0,83.6 569.5,83.5 571.0,83.1 572.5,82.9 574.1,83.4 575.6,82.8 577.1,83.0 578.6,82.9 580.3,83.0 582.1,82.8 583.8,82.6 585.5,82.6 587.3,82.6 589.0,82.5 590.6,82.8 592.1,82.3 593.7,82.7 595.3,82.5 596.9,82.6 598.4,83.1 600.0,82.9 601.6,82.4 603.2,81.9 604.8,81.6 606.4,80.9 607.9,81.1 609.4,80.7 610.8,80.7 612.3,80.5 613.8,80.4 615.2,80.7 616.6,81.2 618.0,81.4 619.5,80.9 621.0,80.4 622.6,80.7 624.2,80.9 625.9,81.6 627.5,81.5 629.0,81.4 630.5,81.3 632.0,80.7 633.7,81.0 635.5,80.4 637.2,80.6 638.9,80.9 640.7,80.7 642.4,80.4 643.8,80.6 645.2,81.0 646.6,81.8 648.4,81.4 650.2,80.7 652.0,80.7 653.5,81.2 655.0,82.2 656.5,81.8 658.1,82.3 659.6,82.3 661.1,82.4 662.6,81.8 664.2,82.2 665.7,82.0 667.1,81.6 668.6,80.6 670.0,80.4 671.5,80.8 673.0,80.9 674.5,80.4 676.0,80.7 677.6,81.1 679.1,80.6 680.7,80.7 682.2,81.1 683.8,81.0 685.3,80.4 686.9,80.6 688.4,80.7 690.0,80.7 691.7,80.5 693.3,80.3 695.0,80.4 696.7,80.7 698.3,80.0 700.0,80.4 701.7,80.3 703.3,79.9 705.0,80.2 706.7,80.0 708.4,80.1 710.1,79.9 711.7,79.4 713.4,80.0 715.1,79.7 716.8,79.4 718.3,79.8 719.9,79.1 721.4,79.2 723.0,79.1 724.5,79.7 726.1,79.3 727.6,79.2 729.2,79.4 730.7,79.8 732.3,79.7 733.8,79.3 735.4,79.2 736.9,79.8 738.5,79.5 740.0,79.5 741.7,79.7 743.3,79.2 745.0,79.2 746.7,79.8 748.3,79.6 750.0,79.3 751.7,80.0 753.3,79.8 755.0,80.0 756.7,79.4 758.3,80.1 760.0,79.8 761.7,79.5 763.3,80.1 765.0,79.8 766.7,79.8 768.3,80.0 770.0,80.3 771.7,79.8 773.3,79.7 775.0,80.0 776.6,80.0 778.2,79.8 779.8,79.6 781.4,79.6 783.0,79.5 784.6,79.6 786.2,79.7 787.8,79.7 789.4,80.0 791.0,79.6 792.6,79.8 794.2,79.5 795.8,79.6 797.4,79.3 799.0,79.7 800.6,79.5 802.1,79.3 803.7,79.9 805.3,79.7 806.8,79.4 808.4,79.7 810.0,80.0 811.5,79.3 813.1,79.9 814.7,79.6 816.2,79.6 817.8,79.9 819.4,79.6 821.0,79.6 822.5,79.8 824.1,80.0 825.7,79.5 827.2,79.9 828.8,79.8 830.4,79.7 831.9,79.5 833.5,79.6" fill="none" stroke="#0000c8" stroke-width="0.72" stroke-dasharray="3.10 0.72" stroke-linejoin="round" />
<polyline points="119.5,87.2 121.0,87.0 122.5,86.6 124.0,86.6 125.5,86.4 127.0,86.7 128.5,86.3 130.0,86.3 131.6,86.0 133.1,85.8 134.7,86.2 136.2,86.1 137.8,85.9 139.4,85.5 140.9,85.3 142.5,85.4 144.1,85.0 145.8,84.9 147.4,84.4 149.1,84.3 150.7,83.9 152.4,84.2 154.0,83.6 155.5,83.7 157.0,83.1 158.5,82.6 160.0,82.9 161.5,82.2 163.0,81.9 164.5,81.4 166.0,81.5 167.5,81.4 169.0,81.4 170.5,81.4 172.0,81.1 173.5,81.3 175.0,80.9 176.5,81.0 178.0,81.1 179.6,80.8 181.2,81.0 182.8,80.8 184.5,80.8 186.1,81.0 187.7,80.9 189.3,81.2 190.9,81.1 192.5,81.3 194.2,81.2 195.8,81.3 197.4,81.4 199.0,81.1 200.7,81.0 202.3,81.0 204.0,81.5 205.7,80.9 207.3,81.3 209.0,81.3 210.7,80.8 212.3,81.4 214.0,81.4 215.7,81.3 217.3,81.4 219.0,81.2 220.6,81.4 222.2,81.0 223.8,81.2 225.5,81.2 227.1,81.5 228.7,81.5 230.3,81.5 231.9,81.3 233.5,81.5 235.2,81.4 236.8,81.4 238.4,81.1 240.0,81.3 241.6,81.0 243.2,81.1 244.8,81.2 246.3,81.1 247.9,81.6 249.5,81.4 251.1,81.4 252.7,81.5 254.2,81.5 255.8,81.4 257.4,81.0 259.0,81.4 260.6,81.6 262.2,81.6 263.8,81.4 265.4,81.5 267.0,81.6 268.6,81.2 270.2,81.6 271.8,81.3 273.4,81.2 275.0,81.5 276.6,81.3 278.1,81.7 279.7,81.3 281.2,81.7 282.8,81.9 284.3,81.6 285.9,81.5 287.4,81.6 289.0,81.6 290.6,81.8 292.2,81.9 293.8,81.9 295.4,82.0 297.0,82.0 298.6,81.9 300.1,82.1 301.7,82.3 303.3,82.8 304.9,82.6 306.4,83.0 308.0,83.1 309.7,82.8 311.3,82.8 313.0,82.9 314.7,83.2 316.3,83.2 318.0,83.1 319.5,83.6 321.0,83.8 322.5,84.3 324.0,84.7 325.7,84.8 327.3,85.0 329.0,84.9 330.7,85.6 332.3,85.3 334.0,85.7 335.6,86.0 337.1,86.0 338.7,85.4 340.3,85.7 341.9,85.9 343.4,86.0 345.0,85.7 346.7,85.3 348.4,84.9 350.1,84.5 351.8,84.7 353.5,84.1 355.0,84.2 356.5,84.8 357.9,84.8 359.4,85.4 360.9,85.7 362.5,85.8 364.0,84.9 365.6,85.2 367.2,84.7 368.8,85.1 370.4,85.7 372.0,86.0 373.6,86.2 375.3,85.9 377.0,86.3 378.6,85.9 380.3,85.5 382.0,85.7 383.7,85.5 385.3,86.0 387.0,86.2 388.4,85.9 389.9,85.6 391.3,85.2 392.7,85.2 394.2,85.3 395.6,85.5 397.1,86.0 398.5,85.7 400.0,86.2 401.6,86.5 403.2,86.7 404.8,86.4 406.4,86.8 408.0,88.5 409.6,88.6 411.2,89.7 412.8,89.4 414.4,88.6 416.0,88.6 417.6,88.4 419.2,88.4 420.9,90.5 422.7,90.3 424.4,91.0 426.2,90.0 427.9,89.4 429.7,88.9 431.5,88.5 433.2,88.1 435.0,89.4 437.0,88.6 439.0,89.8 440.6,90.4 442.2,88.9 443.8,89.2 445.4,90.9 447.0,90.5 448.4,89.5 449.8,89.1 451.2,89.2 452.6,89.8 454.0,89.7 455.4,91.0 457.2,91.2 459.1,92.1 460.5,92.1 461.8,90.0 463.5,90.7 465.3,90.2 467.0,89.2 468.7,89.4 470.3,89.9 472.0,88.8 473.5,89.5 475.1,88.3 476.6,87.8 478.3,88.4 480.0,86.8 481.6,88.5 483.3,87.9 485.0,88.1 486.7,88.9 488.4,88.8 490.1,88.1 491.8,87.7 493.5,88.9 495.0,90.0 496.5,88.1 498.0,89.0 499.5,88.7 501.0,88.6 502.5,89.7 504.0,89.2 505.6,90.4 507.2,88.7 508.8,89.7 510.4,88.9 512.0,89.5 513.6,89.4 515.0,89.7 516.5,89.7 517.9,91.0 520.0,91.5 521.4,91.4 522.8,92.1 524.2,94.5 525.6,94.2 527.2,93.1 528.8,92.1 530.2,92.1 531.6,94.5 533.0,94.2 534.4,94.9 535.8,93.0 537.2,92.6 538.8,99.0 540.4,94.2 542.0,100.0 543.6,94.7 545.7,97.9 547.8,94.7 549.4,94.1 551.0,95.3 552.9,93.2 554.7,92.6 556.0,93.7 557.4,96.8 559.0,95.7 560.5,95.3 561.9,95.2 563.4,96.4 564.8,97.9 566.4,97.1 568.0,97.4 570.0,99.0 571.4,99.9 572.7,100.5 574.5,99.9 576.4,97.4 578.0,97.7 579.6,96.8 581.0,95.6 582.4,94.5 583.8,93.7 586.0,97.9 587.5,96.7 589.1,95.3 590.5,94.6 592.0,94.2 593.4,94.2 595.2,96.0 597.1,100.0 598.4,99.0 599.7,99.0 601.5,98.8 603.2,96.3 604.8,93.3 606.4,92.1 608.2,92.1 610.0,92.1 611.4,96.1 612.7,99.5 614.8,96.8 616.4,98.0 618.0,97.4 619.6,94.7 621.2,93.4 622.6,94.4 624.0,95.8 625.4,97.9 626.7,99.0 628.0,100.5 630.0,100.0 632.3,103.7 633.6,100.1 635.0,96.8 636.5,97.4 638.1,95.8 640.5,96.3 642.4,100.0 644.5,95.8 646.6,100.5 648.2,102.1 649.8,102.1 651.4,101.1 653.0,98.4 654.4,96.2 655.8,95.1 657.2,95.2 658.8,96.3 660.4,96.3 662.0,98.6 663.6,99.0 665.5,96.5 667.3,94.2 668.6,95.7 670.0,96.8 671.5,96.4 673.1,98.4 674.4,101.0 675.7,104.2 677.0,105.5 678.4,104.8 680.0,103.4 681.5,100.5 683.1,100.3 684.7,98.4 685.0,98.4 686.9,100.8 688.7,101.0 690.3,94.7 691.6,91.4 693.0,89.4 694.3,88.4 695.6,89.2 696.9,89.3 698.2,91.0 699.5,90.3 700.9,89.4 702.7,90.0 704.4,90.9 706.2,90.0 708.0,90.2 709.9,89.4 712.0,92.4 714.1,88.9 716.0,88.2 717.8,86.8 719.4,87.2 721.0,86.2 722.6,86.0 724.2,85.5 725.8,85.6 727.4,85.2 729.1,84.7 730.8,84.8 732.4,84.3 734.1,83.8 735.8,83.6 737.5,83.3 739.2,83.3 740.9,83.4 742.6,83.3 744.3,83.1 745.9,82.8 747.5,82.8 749.1,83.0 750.6,83.0 752.2,82.9 753.8,82.8 755.4,83.0 757.0,82.9 758.6,82.6 760.3,82.8 761.9,82.9 763.5,83.2 765.2,83.0 766.8,83.2 768.5,82.9 770.1,82.8 771.7,82.8 773.4,83.3 775.0,83.0 776.6,83.1 778.2,82.8 779.8,82.6 781.4,82.8 783.0,82.9 784.6,82.7 786.2,82.5 787.8,82.7 789.4,82.8 791.0,82.4 792.6,82.2 794.2,82.3 795.8,82.3 797.4,82.5 799.0,82.3 800.6,82.1 802.1,82.5 803.7,82.4 805.3,82.3 806.8,82.1 808.4,82.6 810.0,82.2 811.5,82.5 813.1,82.1 814.7,82.1 816.2,82.4 817.8,82.1 819.4,82.5 821.0,82.2 822.5,82.0 824.1,82.1 825.7,82.2 827.2,82.3 828.8,82.5 830.4,82.0 831.9,82.1 833.5,82.2" fill="none" stroke="#000096" stroke-width="1.05" stroke-dasharray="4.51 1.05" stroke-linejoin="round" />
<polyline points="119.5,108.0 121.0,107.0 122.0,114.0 123.5,109.0 125.0,118.0 127.0,116.0 129.0,119.0 131.0,117.0 132.5,118.0 133.5,114.0 135.0,100.0 137.0,90.0 139.0,89.0 140.7,88.7 142.3,89.1 144.0,88.4 145.7,88.3 147.3,88.2 149.0,88.4 150.6,88.0 152.1,88.0 153.7,87.6 155.3,87.2 156.9,87.0 158.4,86.6 160.0,86.0 161.5,85.6 163.0,85.3 164.5,85.6 166.0,85.2 167.5,84.4 169.0,84.6 170.5,84.2 172.0,84.0 173.6,83.9 175.3,83.9 176.9,83.8 178.5,83.7 180.2,83.8 181.8,83.9 183.5,84.3 185.1,83.7 186.7,84.3 188.4,83.8 190.0,84.0 191.7,83.9 193.3,84.3 195.0,84.3 196.7,84.0 198.3,83.8 200.0,84.1 201.7,84.1 203.3,84.5 205.0,84.2 206.6,84.0 208.1,84.1 209.7,84.5 211.2,83.9 212.8,84.2 214.3,84.5 215.9,84.5 217.4,84.0 219.0,84.3 220.5,83.9 222.0,83.8 223.5,84.3 225.0,83.8 226.5,84.0 228.0,84.1 229.5,83.6 231.0,83.6 232.6,83.5 234.1,84.1 235.7,83.9 237.2,83.8 238.8,84.2 240.3,84.0 241.9,84.1 243.4,84.0 245.0,84.4 246.6,84.6 248.1,84.8 249.7,84.6 251.2,84.8 252.8,84.2 254.3,84.4 255.9,84.6 257.4,85.0 259.0,84.7 260.6,85.1 262.1,84.7 263.7,84.7 265.3,84.8 266.9,84.9 268.4,85.3 270.0,85.0 271.5,84.9 273.0,85.4 274.5,85.4 276.0,85.3 277.5,85.9 278.9,86.3 280.4,86.6 281.8,86.8 283.3,87.3 284.9,87.7 286.5,88.3 288.1,89.1 289.7,89.4 291.5,88.8 293.2,89.7 295.0,91.0 296.5,91.3 298.0,89.7 299.4,88.9 300.9,88.5 302.4,89.4 303.8,89.7 305.2,89.3 306.6,90.0 308.0,90.7 309.3,88.9 310.8,92.6 312.4,93.5 314.0,93.6 315.6,91.6 317.2,92.1 318.8,91.9 320.4,92.8 322.0,94.7 323.9,93.1 325.7,91.5 327.3,92.4 328.9,92.2 330.4,92.0 332.0,93.1 333.4,92.6 334.9,92.7 336.3,92.1 338.4,94.2 339.7,92.3 341.0,89.4 343.2,92.0 345.0,90.0 346.5,91.1 348.0,91.0 349.7,90.9 351.4,88.9 352.8,89.5 354.2,88.2 355.6,89.4 357.2,92.9 358.8,94.7 360.4,93.1 362.0,92.6 363.3,94.1 364.6,95.3 365.9,92.6 367.2,90.5 368.8,90.6 370.4,89.4 372.0,88.6 373.6,88.7 375.2,88.7 376.8,89.4 378.4,89.5 380.0,91.5 381.3,91.7 382.6,90.0 384.0,91.8 385.3,93.1 386.6,94.8 387.9,97.4 389.8,97.9 391.6,99.0 393.7,96.3 395.3,99.7 396.9,100.5 398.4,102.7 400.0,104.8 401.4,104.4 402.9,106.3 404.3,105.8 405.9,105.9 407.5,105.3 409.6,103.7 411.2,110.1 412.5,111.6 413.8,110.6 415.1,108.5 416.5,108.5 417.9,108.7 419.2,109.0 421.3,110.0 422.9,112.2 424.4,112.7 426.0,112.5 427.6,110.6 429.2,112.2 430.8,111.7 433.0,110.0 435.3,111.0 437.1,109.3 438.8,109.5 440.6,109.5 441.9,106.4 443.2,105.3 445.4,105.8 447.0,110.0 448.5,108.4 450.0,108.5 451.4,107.9 452.8,104.8 454.9,109.5 456.8,110.3 458.6,110.6 460.0,112.4 461.4,111.7 462.8,112.7 464.4,114.5 466.0,114.3 467.6,106.9 469.2,107.3 470.8,108.0 472.1,108.4 473.4,110.0 475.0,108.1 476.6,104.8 478.0,105.4 479.4,102.7 480.8,103.2 482.1,102.3 483.5,101.0 485.0,97.9 487.2,100.0 488.8,100.6 490.4,100.5 491.9,102.4 493.5,105.8 495.1,108.1 496.7,111.1 498.3,109.6 499.9,110.0 502.0,109.5 504.1,113.2 505.7,114.3 507.3,117.0 508.9,113.2 510.5,112.2 512.0,112.8 513.6,112.2 515.0,114.4 516.3,115.9 517.6,116.2 519.0,118.0 520.5,117.2 522.0,118.6 523.5,120.0 525.0,120.0 527.0,118.7 529.0,119.0 530.7,119.8 532.3,120.9 534.0,123.0 535.5,121.8 537.0,119.0 539.0,124.0 540.6,118.0 543.0,124.0 545.0,122.1 547.0,120.0 548.7,118.9 550.3,119.0 552.0,120.0 553.3,118.2 554.6,117.0 556.3,119.6 558.0,122.0 559.5,120.9 561.0,119.0 562.5,118.7 564.0,119.6 565.5,121.8 567.0,122.0 568.5,122.0 570.0,121.9 571.5,122.2 573.0,123.0 574.5,123.9 576.0,122.0 577.5,122.4 579.0,122.0 580.7,120.6 582.3,119.8 584.0,119.0 585.7,120.9 587.3,122.3 589.0,122.0 590.8,122.1 592.5,122.2 594.2,124.1 596.0,124.0 598.0,125.0 600.0,124.9 601.6,121.7 603.2,120.1 604.8,117.0 606.4,116.4 608.0,118.0 609.5,117.5 611.1,121.3 612.7,125.4 614.0,124.4 615.4,121.7 617.0,120.7 618.5,120.1 619.9,118.9 621.2,115.7 622.8,117.3 624.4,119.1 626.2,119.8 628.0,122.3 630.0,121.7 632.3,126.0 633.9,122.1 635.5,120.7 636.8,120.3 638.1,119.6 639.5,121.0 641.0,122.8 642.4,122.8 644.5,120.7 646.6,124.4 648.2,123.0 649.8,123.8 651.4,122.3 653.0,120.1 655.0,119.8 657.0,120.1 658.7,120.7 660.4,121.2 662.0,120.8 663.6,122.3 665.5,118.6 667.3,116.1 668.6,117.7 670.0,119.1 671.5,120.2 673.0,119.1 675.2,121.7 676.5,121.2 677.9,122.8 679.7,121.2 681.5,119.6 683.2,121.4 685.0,121.7 686.3,123.2 687.6,122.3 689.0,118.9 690.3,117.0 692.1,113.4 694.0,111.7 696.1,114.3 697.7,113.8 699.8,110.1 701.1,112.9 702.5,113.3 703.9,113.3 705.3,110.7 706.7,109.5 708.3,111.7 709.9,110.1 712.0,112.2 713.4,108.6 714.7,107.4 716.5,105.6 718.4,101.6 719.7,102.7 721.0,104.3 722.9,102.4 724.7,98.4 726.0,97.7 727.4,96.3 729.5,91.5 730.8,94.2 732.1,95.2 733.5,92.0 734.8,90.5 736.4,89.6 738.0,87.3 739.6,86.4 741.1,86.8 742.7,86.9 744.3,86.5 745.9,86.7 747.6,86.3 749.2,86.3 750.8,86.4 752.5,86.5 754.1,86.4 755.7,86.3 757.4,86.3 759.0,86.5 760.6,86.6 762.2,86.8 763.8,86.3 765.4,86.6 767.0,86.7 768.6,86.3 770.2,86.8 771.8,86.4 773.4,86.6 775.0,86.6 776.6,86.6 778.2,86.6 779.8,86.4 781.4,86.4 783.0,86.4 784.6,86.3 786.2,86.4 787.8,86.2 789.4,86.2 791.0,85.9 792.6,86.2 794.2,86.1 795.8,85.9 797.4,86.2 799.0,86.0 800.6,86.2 802.1,86.0 803.7,85.8 805.3,86.0 806.8,85.8 808.4,85.8 810.0,86.0 811.5,85.8 813.1,86.0 814.7,86.0 816.2,85.7 817.8,86.1 819.4,85.7 821.0,86.1 822.5,86.2 824.1,86.0 825.7,85.7 827.2,86.0 828.8,85.9 830.4,86.3 831.9,85.8 833.5,86.0" fill="none" stroke="#00007d" stroke-width="1.35" stroke-dasharray="5.80 1.35" stroke-linejoin="round" />
<polyline points="119.5,221.0 121.2,219.4 123.0,216.0 125.0,213.8 127.0,209.0 129.0,208.6 131.0,207.0 133.0,204.3 135.0,200.0 137.0,195.2 139.0,192.0 141.0,186.0 142.5,188.3 144.0,188.0 145.7,184.3 147.3,181.9 149.0,177.0 151.0,160.0 153.0,146.0 155.0,136.0 157.0,129.0 159.0,132.0 160.0,141.0 162.0,129.0 164.0,128.0 166.0,112.0 168.0,102.0 170.0,93.0 172.0,89.6 173.8,89.7 175.5,89.1 177.2,89.4 179.0,89.0 180.7,89.3 182.3,88.6 184.0,88.7 185.7,89.0 187.3,88.5 189.0,89.0 190.7,88.5 192.3,88.8 194.0,88.3 195.7,88.5 197.3,88.7 199.0,88.4 200.5,88.2 202.1,88.3 203.6,88.5 205.1,88.4 206.7,88.2 208.2,88.3 209.7,88.3 211.3,88.9 212.8,88.6 214.9,89.3 216.3,91.7 217.7,93.0 219.1,95.1 220.6,94.0 222.0,95.9 223.7,98.7 225.0,102.5 227.3,105.5 228.3,102.0 229.3,97.3 230.6,97.7 231.8,96.6 233.9,93.0 236.0,93.0 238.2,95.9 240.3,95.2 241.7,99.4 242.8,102.5 245.0,107.0 246.5,104.4 248.0,104.0 249.5,106.6 251.0,109.0 253.0,111.4 255.0,113.0 257.0,113.1 259.0,114.0 260.5,114.2 262.0,112.4 263.5,113.9 265.0,115.0 267.0,115.7 269.0,116.0 271.0,116.1 273.0,114.0 275.0,112.4 277.0,113.0 279.0,118.0 280.5,119.9 282.0,119.0 283.5,121.4 285.0,123.0 287.0,123.7 289.0,125.0 290.5,126.3 292.0,125.3 293.5,127.9 295.0,127.0 296.5,127.0 298.0,126.1 299.5,127.0 301.0,125.8 302.5,124.8 304.0,126.2 305.5,124.0 307.0,125.0 308.6,126.5 310.2,125.5 311.8,127.2 313.4,128.8 315.0,128.0 316.7,128.1 318.3,128.1 320.0,127.0 321.7,125.9 323.3,125.9 325.0,127.0 326.8,126.8 328.5,128.8 330.2,129.1 332.0,130.0 333.5,130.8 335.0,132.6 336.5,131.2 338.0,133.0 339.7,131.6 341.3,132.1 343.0,131.0 344.5,129.4 346.0,129.1 347.5,129.8 349.0,130.0 350.7,126.9 352.3,125.6 354.0,124.0 355.7,125.2 357.3,128.2 359.0,130.0 360.5,130.0 362.0,128.7 363.5,129.6 365.0,129.0 366.7,127.9 368.3,126.0 370.0,126.0 371.5,128.2 373.0,128.0 375.0,129.3 377.0,132.0 379.0,133.5 381.0,137.0 383.0,134.0 385.0,135.4 387.0,139.0 389.0,141.9 391.0,144.0 392.5,144.5 394.0,143.0 395.5,146.3 397.0,148.0 399.0,150.7 401.0,154.0 403.0,155.3 405.0,158.0 407.0,155.1 409.0,155.0 410.5,156.2 412.0,156.7 413.5,156.8 415.0,158.0 416.5,158.2 418.0,157.3 419.5,158.5 421.0,157.0 423.0,159.2 425.0,160.0 426.5,159.8 428.0,162.1 429.5,160.2 431.0,162.0 432.7,162.6 434.3,162.8 436.0,163.6 437.7,161.7 439.3,160.0 441.0,160.0 442.5,160.5 444.0,158.1 445.5,159.4 447.0,159.0 448.5,159.7 450.0,157.0 451.5,156.7 453.0,157.0 454.5,157.6 456.0,157.5 457.5,158.1 459.0,158.0 460.5,159.4 462.0,159.0 463.5,157.1 465.0,156.5 466.5,155.4 468.0,155.0 470.0,154.2 472.0,156.0 474.0,155.6 476.0,153.0 477.5,154.3 479.0,154.0 480.7,153.3 482.3,150.0 484.0,150.0 486.0,152.0 488.0,152.0 489.5,152.2 491.0,151.0 493.0,153.4 495.0,156.0 497.0,158.2 499.0,159.0 500.5,159.4 502.0,159.2 503.5,159.4 505.0,161.0 507.0,161.8 509.0,164.0 511.0,161.7 513.0,162.0 515.0,163.5 517.0,166.0 519.0,166.2 521.0,165.0 522.5,166.0 524.0,167.0 525.5,167.1 527.0,167.0 528.7,166.7 530.3,167.8 532.0,168.0 534.0,166.3 536.0,165.0 537.5,167.8 539.0,169.0 540.5,168.8 542.0,167.8 543.5,168.6 545.0,168.0 546.5,168.8 548.0,166.2 549.5,167.6 551.0,166.0 553.0,164.6 555.0,166.0 556.5,167.8 558.0,171.0 560.0,168.8 562.0,168.0 563.5,168.7 565.0,168.0 567.0,170.7 569.0,171.0 571.0,173.2 573.0,174.0 574.5,171.0 576.0,169.0 577.5,169.1 579.0,167.0 580.5,167.5 582.0,169.0 584.0,166.0 585.5,167.3 587.0,170.0 589.0,170.6 591.0,169.0 593.0,170.9 595.0,172.0 597.0,176.0 599.0,173.0 600.5,174.5 602.0,175.0 604.0,172.5 606.0,169.0 607.5,169.8 609.0,168.0 611.0,170.4 613.0,173.0 614.5,173.0 616.0,171.0 618.0,168.1 620.0,164.0 621.7,166.0 623.3,165.8 625.0,167.0 627.0,168.6 629.0,169.0 630.5,169.7 632.0,170.0 633.7,168.1 635.3,166.5 637.0,166.0 638.5,167.1 640.0,166.3 641.5,169.4 643.0,169.0 644.5,167.5 646.0,166.7 647.5,166.4 649.0,167.0 650.5,168.0 652.0,166.1 653.5,165.2 655.0,166.0 657.0,163.2 659.0,163.0 661.0,162.7 663.0,165.0 664.5,162.0 666.0,158.0 667.5,160.4 669.0,162.0 671.0,160.1 673.0,157.0 674.7,160.3 676.3,161.1 678.0,165.0 680.0,160.8 682.0,156.0 683.7,156.6 685.3,158.9 687.0,159.0 689.0,155.9 691.0,151.0 692.5,152.3 694.0,150.3 695.5,152.8 697.0,152.0 699.0,151.7 701.0,149.0 702.7,149.2 704.3,145.9 706.0,146.0 707.7,146.5 709.3,147.6 711.0,150.0 712.5,146.2 714.0,145.0 715.7,144.6 717.3,143.2 719.0,141.0 721.0,140.4 723.0,139.0 725.0,138.4 727.0,136.0 728.4,134.5 730.0,134.6 731.6,133.4 733.2,132.6 734.8,133.4 736.9,127.6 738.5,124.9 739.8,123.5 741.1,124.4 743.3,120.1 745.4,116.4 747.0,115.3 748.6,112.7 750.0,111.2 751.4,110.8 752.8,110.6 754.1,108.3 755.4,106.4 757.0,101.6 759.2,101.0 761.3,99.0 763.4,95.2 765.5,97.9 767.6,101.0 770.0,103.6 771.9,104.2 773.8,107.4 775.2,103.9 776.6,101.8 778.5,99.8 780.4,99.0 782.1,103.7 783.8,106.8 785.5,111.2 787.9,106.5 789.3,106.0 790.7,106.5 792.4,103.5 794.0,98.0 795.4,94.2 796.8,90.3 798.2,91.5 799.6,90.7 800.6,103.6 801.5,115.9 803.0,116.0 804.4,115.4 806.2,113.0 808.1,110.2 810.5,116.8 811.9,113.8 813.3,113.5 815.1,112.3 817.0,111.6 819.0,107.0 820.8,110.2 822.2,115.9 824.6,120.1 826.9,121.0 828.8,126.2 830.0,122.3 831.2,118.7 833.5,115.9" fill="none" stroke="#000068" stroke-width="1.80" stroke-dasharray="7.74 1.80" stroke-linejoin="round" />
<polyline points="119.5,376.0 120.0,378.0 122.0,390.0 124.0,389.4 126.0,388.0 128.0,358.0 130.0,341.0 132.0,351.0 133.5,340.3 135.0,330.0 136.5,319.3 138.0,308.0 139.3,306.6 140.6,305.0 141.8,310.5 143.0,317.0 144.6,304.0 146.0,315.0 147.5,296.1 149.0,276.0 150.6,272.0 152.0,246.0 153.5,240.3 155.0,236.0 156.5,234.0 158.0,231.0 159.3,233.5 160.6,237.0 162.0,232.0 164.0,229.0 166.0,229.0 168.0,220.0 170.0,212.0 172.0,196.0 174.0,185.0 176.0,180.0 178.0,169.0 179.0,168.0 180.0,171.0 181.3,163.7 182.6,158.0 184.6,172.0 185.8,168.0 187.0,165.0 188.5,162.9 190.0,160.0 191.5,158.8 193.0,156.0 195.0,154.0 196.2,148.7 197.4,145.0 199.0,147.0 201.0,153.0 202.5,153.0 204.0,153.0 205.2,155.0 206.4,157.0 208.0,163.0 210.0,169.0 212.0,166.0 213.3,165.5 214.6,164.0 215.8,164.5 217.0,166.0 219.0,168.0 221.0,170.0 222.5,173.3 224.0,177.0 225.8,181.0 227.6,184.0 229.1,179.1 230.6,175.0 231.8,175.2 233.0,174.0 234.3,172.2 235.6,171.0 237.3,172.5 239.0,175.0 240.5,178.3 242.0,181.0 244.0,183.0 246.0,177.0 248.0,176.0 249.5,178.5 251.0,181.0 253.0,183.9 255.0,188.0 257.0,185.0 259.0,190.0 260.6,186.0 262.0,191.0 264.0,192.0 265.5,191.2 267.0,190.0 269.0,185.0 270.5,185.3 272.0,187.0 274.0,188.5 276.0,189.0 277.5,190.3 279.0,191.0 280.3,188.0 281.6,184.0 283.0,186.0 285.0,194.0 287.0,192.7 289.0,191.0 291.0,191.8 293.0,193.0 294.7,191.2 296.3,189.5 298.0,188.0 299.5,189.1 301.0,189.0 302.8,186.8 304.6,186.0 306.3,191.1 308.0,195.0 309.5,192.7 311.0,192.0 313.0,192.5 315.0,194.0 317.0,193.1 319.0,193.0 320.5,192.1 322.0,190.0 323.5,193.0 325.0,196.0 326.5,193.8 328.0,192.0 329.7,193.9 331.3,194.2 333.0,196.0 334.5,197.9 336.0,200.0 338.0,203.0 340.0,201.6 342.0,200.0 344.0,199.9 346.0,199.0 348.0,202.0 349.5,200.9 351.0,199.0 353.0,201.0 354.5,199.7 356.0,198.0 357.5,197.3 359.0,197.0 361.0,197.7 363.0,199.0 364.5,199.4 366.0,201.0 367.5,199.5 369.0,197.0 371.0,197.3 373.0,197.0 375.0,202.0 377.0,203.4 379.0,204.0 380.5,204.0 382.0,205.0 384.0,206.4 386.0,208.0 388.0,213.0 390.0,216.0 391.5,215.4 393.0,214.0 395.0,218.0 396.5,219.1 398.0,220.0 399.5,221.4 401.0,224.0 402.5,224.9 404.0,226.0 406.0,224.1 408.0,221.0 409.5,222.6 411.0,225.0 413.0,223.0 415.0,225.0 417.0,228.0 419.0,226.2 421.0,225.0 422.5,225.8 424.0,226.5 425.5,225.9 427.0,227.0 429.0,227.9 431.0,230.0 432.5,228.8 434.0,228.2 435.5,227.8 437.0,227.0 439.0,228.0 441.0,230.0 442.5,229.2 444.0,228.5 445.5,229.3 447.0,228.0 448.5,227.9 450.0,226.4 451.5,227.2 453.0,226.0 455.0,226.9 457.0,229.0 459.0,234.0 461.0,226.0 463.0,229.8 465.0,234.0 466.5,233.3 468.0,231.0 469.5,230.5 471.0,229.0 473.0,229.9 475.0,230.0 476.5,229.9 478.0,230.0 479.5,226.5 481.0,224.0 483.0,223.7 485.0,223.0 487.0,226.0 489.0,224.0 490.5,225.4 492.0,228.0 493.5,230.5 495.0,234.0 497.0,235.3 499.0,237.0 500.5,237.8 502.0,240.0 503.5,243.3 505.0,247.0 507.0,257.0 509.0,251.0 510.6,257.0 512.0,252.0 513.4,246.0 515.0,258.0 517.0,269.0 519.0,258.0 520.5,261.3 522.0,264.0 523.5,264.0 525.0,264.0 526.6,271.0 528.0,262.0 529.3,264.2 530.6,266.0 533.0,277.0 534.5,267.9 536.0,259.0 537.5,268.4 539.0,279.0 540.6,261.0 543.0,278.0 544.3,272.2 545.6,266.0 548.0,273.0 550.0,274.0 552.0,280.0 554.0,270.0 555.4,270.0 557.0,288.0 558.5,279.8 560.0,272.0 561.5,271.4 563.0,270.0 565.0,265.0 566.5,276.7 568.0,287.0 569.5,281.4 571.0,276.0 573.0,308.0 574.5,303.1 576.0,298.0 578.0,284.0 579.3,292.9 580.6,301.0 582.3,283.4 584.0,266.0 586.0,282.0 587.4,275.0 589.0,293.0 591.0,286.0 593.0,286.0 594.0,274.0 595.3,300.6 596.6,328.0 598.3,313.4 600.0,298.0 601.4,326.0 603.4,300.0 605.2,294.6 607.0,288.0 608.0,296.0 610.0,282.0 611.5,293.1 613.1,303.7 614.6,314.0 616.3,304.6 618.0,294.0 619.0,304.0 621.0,281.0 622.5,287.8 624.0,294.0 625.5,302.2 627.0,310.0 628.5,310.4 630.0,311.0 630.4,287.0 632.0,340.0 634.0,312.0 636.0,308.0 637.5,297.7 639.0,288.0 640.6,286.0 643.0,315.0 644.6,278.0 646.0,313.0 647.6,284.0 649.6,319.0 652.0,300.0 653.6,304.0 655.6,321.0 658.0,289.0 659.5,288.7 661.0,288.0 662.5,300.9 664.0,315.0 665.5,301.4 667.0,288.0 668.5,295.0 670.0,301.0 672.4,285.0 674.0,289.8 675.6,294.0 677.0,293.7 678.4,293.0 680.4,274.0 682.4,268.0 683.7,264.6 685.0,262.0 686.5,266.4 688.0,271.0 689.5,256.4 691.0,242.0 692.4,253.0 693.7,249.7 695.0,246.0 697.4,254.0 698.7,252.4 700.0,251.0 701.5,249.8 703.0,248.0 704.5,246.0 706.1,242.2 707.6,240.0 709.6,242.0 711.6,257.0 713.6,242.0 715.0,241.0 717.0,229.0 719.0,227.7 721.0,226.0 722.5,222.4 724.0,218.0 725.7,212.8 727.4,208.0 728.7,209.5 730.0,211.0 731.4,213.0 732.8,213.4 734.2,208.7 735.6,205.5 737.0,201.4 738.7,198.5 740.3,197.2 742.0,194.4 744.1,194.4 745.5,191.2 747.0,186.6 749.0,188.7 751.2,183.0 753.0,183.4 754.7,183.8 756.8,173.9 758.2,170.4 759.6,171.5 761.0,173.9 763.2,165.4 764.6,166.1 766.7,171.8 768.1,173.7 769.5,175.3 771.6,174.6 773.0,178.6 774.5,182.4 775.9,176.3 777.3,169.6 779.0,169.3 780.8,168.9 782.2,177.4 783.6,180.1 785.0,182.4 786.5,182.5 787.9,181.6 789.6,182.0 791.4,182.4 793.5,175.3 795.0,173.9 797.0,178.8 798.5,184.5 800.2,185.2 801.3,207.8 803.0,208.7 804.8,209.9 806.2,212.4 807.6,213.4 809.8,213.4 811.2,223.3 813.0,223.5 814.7,224.7 816.5,227.1 818.2,228.9 820.0,232.6 821.8,236.7 823.9,236.7 825.3,240.9 826.7,237.4 828.1,244.5 830.2,248.0 832.4,243.8 833.5,243.0" fill="none" stroke="#000000" stroke-width="2.50" stroke-linejoin="round" />
</g>
<rect x="119.5" y="39.4" width="714.0" height="726.1" fill="none" stroke="#000" stroke-width="1.33"/>
<line x1="119.50" y1="765.5" x2="119.50" y2="771.5" stroke="#000" stroke-width="1.33"/>
<line x1="199.38" y1="765.5" x2="199.38" y2="771.5" stroke="#000" stroke-width="1.33"/>
<line x1="279.25" y1="765.5" x2="279.25" y2="771.5" stroke="#000" stroke-width="1.33"/>
<line x1="359.12" y1="765.5" x2="359.12" y2="771.5" stroke="#000" stroke-width="1.33"/>
<line x1="439.00" y1="765.5" x2="439.00" y2="771.5" stroke="#000" stroke-width="1.33"/>
<line x1="518.88" y1="765.5" x2="518.88" y2="771.5" stroke="#000" stroke-width="1.33"/>
<line x1="598.75" y1="765.5" x2="598.75" y2="771.5" stroke="#000" stroke-width="1.33"/>
<line x1="678.62" y1="765.5" x2="678.62" y2="771.5" stroke="#000" stroke-width="1.33"/>
<line x1="758.50" y1="765.5" x2="758.50" y2="771.5" stroke="#000" stroke-width="1.33"/>
<line x1="113.5" y1="712.40" x2="119.5" y2="712.40" stroke="#000" stroke-width="1.33"/>
<line x1="113.5" y1="556.10" x2="119.5" y2="556.10" stroke="#000" stroke-width="1.33"/>
<line x1="113.5" y1="399.80" x2="119.5" y2="399.80" stroke="#000" stroke-width="1.33"/>
<line x1="113.5" y1="243.50" x2="119.5" y2="243.50" stroke="#000" stroke-width="1.33"/>
<line x1="113.5" y1="87.20" x2="119.5" y2="87.20" stroke="#000" stroke-width="1.33"/>
<rect x="119.1" y="17.2" width="713.8" height="22.2" rx="2.3" ry="2.3" fill="#fff" fill-opacity="0.8" stroke="#cccccc" stroke-opacity="0.8" stroke-width="1.67"/>
<line x1="119.5" y1="39.45" x2="833.5" y2="39.45" stroke="#787878" stroke-width="1.5"/>
<line x1="124.3" y1="27.3" x2="147.7" y2="27.3" stroke="#ccccff" stroke-width="0.75" stroke-dasharray="3.22 0.75"/>
<line x1="278.3" y1="27.3" x2="301.7" y2="27.3" stroke="#aaaaff" stroke-width="1.17" stroke-dasharray="5.03 1.17"/>
<line x1="432.3" y1="27.3" x2="455.7" y2="27.3" stroke="#8585ff" stroke-width="1.5" stroke-dasharray="6.45 1.50"/>
<line x1="593" y1="27.3" x2="616.4" y2="27.3" stroke="#6c6cff" stroke-width="1.95" stroke-dasharray="8.38 1.95"/>
<line x1="753.5" y1="27.3" x2="776.9" y2="27.3" stroke="#000" stroke-width="2.5"/>
</svg>
<div class="t xt" style="left:119.5px">0</div>
<div class="t xt" style="left:199.4px">50</div>
<div class="t xt" style="left:279.2px">100</div>
<div class="t xt" style="left:359.1px">150</div>
<div class="t xt" style="left:439.0px">200</div>
<div class="t xt" style="left:518.9px">250</div>
<div class="t xt" style="left:598.8px">300</div>
<div class="t xt" style="left:678.6px">350</div>
<div class="t xt" style="left:758.5px">400</div>
<div class="t yt" style="left:106.6px;top:713.0px">200</div>
<div class="t yt" style="left:106.6px;top:556.7px">400</div>
<div class="t yt" style="left:106.6px;top:400.4px">600</div>
<div class="t yt" style="left:106.6px;top:244.1px">800</div>
<div class="t yt" style="left:106.6px;top:87.8px">1000</div>
<div class="t" id="xl" style="font-size:17.4px;left:476.1px;top:800.6px;transform:translateX(-50%) scaleX(1.082)">Binned row index</div>
<div class="t" id="yl" style="font-size:17.4px;left:49.3px;top:403.1px;transform:translate(-50%,-50%) rotate(-90deg) scaleX(1.067)">Aerosol mid pressure [hPa]</div>
<div class="t lg" style="left:156.3px">1-99%</div>
<div class="t lg" style="left:311.2px">5-95%</div>
<div class="t lg" style="left:464.3px">10-90%</div>
<div class="t lg" style="left:626.3px">25-75%</div>
<div class="t lg" style="left:787px">Median</div>
</body></html>
